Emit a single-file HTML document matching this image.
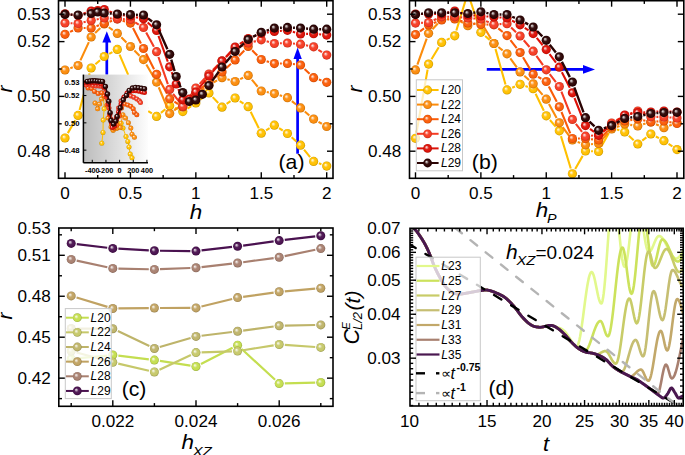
<!DOCTYPE html><html><head><meta charset="utf-8"><style>html,body{margin:0;padding:0;background:#fff;overflow:hidden;}svg{display:block;font-family:"Liberation Sans",sans-serif;}</style></head><body><svg width="685" height="455" viewBox="0 0 685 455" font-family="Liberation Sans, sans-serif"><defs><radialGradient id="g0" cx="0.5" cy="0.5" r="0.5" fx="0.35" fy="0.34"><stop offset="0" stop-color="#fffaeb"/><stop offset="0.18" stop-color="#ffe79e"/><stop offset="0.45" stop-color="#ffc40f"/><stop offset="0.8" stop-color="#ffc000"/><stop offset="1" stop-color="#c79600"/></radialGradient><radialGradient id="g1" cx="0.5" cy="0.5" r="0.5" fx="0.35" fy="0.34"><stop offset="0" stop-color="#fff6ec"/><stop offset="0.18" stop-color="#fdd3a3"/><stop offset="0.45" stop-color="#fb931b"/><stop offset="0.8" stop-color="#fb8c0c"/><stop offset="1" stop-color="#c46d09"/></radialGradient><radialGradient id="g2" cx="0.5" cy="0.5" r="0.5" fx="0.35" fy="0.34"><stop offset="0" stop-color="#fff2eb"/><stop offset="0.18" stop-color="#fdc1a1"/><stop offset="0.45" stop-color="#fa6617"/><stop offset="0.8" stop-color="#fa5c08"/><stop offset="1" stop-color="#c34806"/></radialGradient><radialGradient id="g3" cx="0.5" cy="0.5" r="0.5" fx="0.35" fy="0.34"><stop offset="0" stop-color="#feefed"/><stop offset="0.18" stop-color="#fbb5ac"/><stop offset="0.45" stop-color="#f64831"/><stop offset="0.8" stop-color="#f53c24"/><stop offset="1" stop-color="#bf2f1c"/></radialGradient><radialGradient id="g4" cx="0.5" cy="0.5" r="0.5" fx="0.35" fy="0.34"><stop offset="0" stop-color="#fceceb"/><stop offset="0.18" stop-color="#f2a5a1"/><stop offset="0.45" stop-color="#de2017"/><stop offset="0.8" stop-color="#dc1208"/><stop offset="1" stop-color="#ac0e06"/></radialGradient><radialGradient id="g5" cx="0.5" cy="0.5" r="0.5" fx="0.35" fy="0.34"><stop offset="0" stop-color="#eeebeb"/><stop offset="0.18" stop-color="#aea0a0"/><stop offset="0.45" stop-color="#381313"/><stop offset="0.8" stop-color="#2b0404"/><stop offset="1" stop-color="#220303"/></radialGradient><linearGradient id="insg" x1="0" y1="0" x2="1" y2="0"><stop offset="0" stop-color="#bcbcbc"/><stop offset="0.5" stop-color="#dcdcdc"/><stop offset="1" stop-color="#fdfdfd"/></linearGradient><radialGradient id="g6" cx="0.5" cy="0.5" r="0.5" fx="0.35" fy="0.34"><stop offset="0" stop-color="#fafcf1"/><stop offset="0.18" stop-color="#e9f2bc"/><stop offset="0.45" stop-color="#c8e05a"/><stop offset="0.8" stop-color="#c4de50"/><stop offset="1" stop-color="#99ad3e"/></radialGradient><radialGradient id="g7" cx="0.5" cy="0.5" r="0.5" fx="0.35" fy="0.34"><stop offset="0" stop-color="#fafbf3"/><stop offset="0.18" stop-color="#e9eac6"/><stop offset="0.45" stop-color="#c9cb73"/><stop offset="0.8" stop-color="#c6c86a"/><stop offset="1" stop-color="#9a9c53"/></radialGradient><radialGradient id="g8" cx="0.5" cy="0.5" r="0.5" fx="0.35" fy="0.34"><stop offset="0" stop-color="#faf9f3"/><stop offset="0.18" stop-color="#e6e2c6"/><stop offset="0.45" stop-color="#c2b873"/><stop offset="0.8" stop-color="#beb46a"/><stop offset="1" stop-color="#948c53"/></radialGradient><radialGradient id="g9" cx="0.5" cy="0.5" r="0.5" fx="0.35" fy="0.34"><stop offset="0" stop-color="#faf8f2"/><stop offset="0.18" stop-color="#e7dcc3"/><stop offset="0.45" stop-color="#c4a86b"/><stop offset="0.8" stop-color="#c0a262"/><stop offset="1" stop-color="#967e4c"/></radialGradient><radialGradient id="g10" cx="0.5" cy="0.5" r="0.5" fx="0.35" fy="0.34"><stop offset="0" stop-color="#f8f5f4"/><stop offset="0.18" stop-color="#decfc9"/><stop offset="0.45" stop-color="#ad8879"/><stop offset="0.8" stop-color="#a88070"/><stop offset="1" stop-color="#836457"/></radialGradient><radialGradient id="g11" cx="0.5" cy="0.5" r="0.5" fx="0.35" fy="0.34"><stop offset="0" stop-color="#f1ecf1"/><stop offset="0.18" stop-color="#baa5bc"/><stop offset="0.45" stop-color="#55205a"/><stop offset="0.8" stop-color="#4a1250"/><stop offset="1" stop-color="#3a0e3e"/></radialGradient></defs><rect width="685" height="455" fill="#ffffff"/><line x1="106.8" y1="74.6" x2="106.8" y2="41" stroke="#0000ff" stroke-width="2.7"/><polygon points="106.8,31.2 102.4,42.4 111.2,42.4" fill="#0000ff"/><line x1="297.6" y1="153.7" x2="297.6" y2="58" stroke="#0000ff" stroke-width="2.7"/><polygon points="297.6,47.6 293.5,59.1 301.8,59.1" fill="#0000ff"/><clipPath id="clipA"><rect x="58.5" y="0.7" width="274.5" height="177.60000000000002"/></clipPath><g clip-path="url(#clipA)"><path d="M67.81,133.15L75.28,120.25M79.58,110.00L89.68,73.40M95.38,64.30L100.05,60.20M109.18,53.83L112.42,52.07M119.54,54.55L128.22,74.85M132.80,85.07L141.14,102.93M148.22,111.03L151.88,113.37M160.93,112.86L165.34,109.24M174.79,108.00L177.66,109.30M187.44,108.52L191.17,106.08M200.30,99.60L204.49,96.40M212.73,97.12L218.23,103.08M226.60,103.98L230.52,101.22M239.77,101.10L243.53,103.60M250.67,111.72L258.80,128.18M266.05,130.28L269.58,128.12M279.09,128.20L282.72,130.50M291.62,137.23L296.36,141.47M304.05,149.56L310.10,157.04M318.89,163.29L321.43,164.21" fill="none" stroke="#ffc000" stroke-width="2.1" stroke-linecap="butt"/></g><circle cx="65.00" cy="138.00" r="4.6" fill="url(#g0)"/><circle cx="78.09" cy="115.40" r="4.6" fill="url(#g0)"/><circle cx="91.17" cy="68.00" r="4.6" fill="url(#g0)"/><circle cx="104.25" cy="56.50" r="4.6" fill="url(#g0)"/><circle cx="117.34" cy="49.40" r="4.6" fill="url(#g0)"/><circle cx="130.43" cy="80.00" r="4.6" fill="url(#g0)"/><circle cx="143.51" cy="108.00" r="4.6" fill="url(#g0)"/><circle cx="156.59" cy="116.40" r="4.6" fill="url(#g0)"/><circle cx="169.68" cy="105.70" r="4.6" fill="url(#g0)"/><circle cx="182.76" cy="111.60" r="4.6" fill="url(#g0)"/><circle cx="195.85" cy="103.00" r="4.6" fill="url(#g0)"/><circle cx="208.94" cy="93.00" r="4.6" fill="url(#g0)"/><circle cx="222.02" cy="107.20" r="4.6" fill="url(#g0)"/><circle cx="235.10" cy="98.00" r="4.6" fill="url(#g0)"/><circle cx="248.19" cy="106.70" r="4.6" fill="url(#g0)"/><circle cx="261.27" cy="133.20" r="4.6" fill="url(#g0)"/><circle cx="274.36" cy="125.20" r="4.6" fill="url(#g0)"/><circle cx="287.44" cy="133.50" r="4.6" fill="url(#g0)"/><circle cx="300.53" cy="145.20" r="4.6" fill="url(#g0)"/><circle cx="313.62" cy="161.40" r="4.6" fill="url(#g0)"/><circle cx="326.70" cy="166.10" r="4.6" fill="url(#g0)"/><g clip-path="url(#clipA)"><path d="M70.30,68.18L72.79,67.32M80.42,60.41L88.83,42.09M95.14,33.05L100.28,27.95M108.80,27.27L112.79,30.13M121.30,37.36L126.47,42.54M134.38,50.46L139.55,55.64M146.33,64.44L153.78,77.26M158.74,87.27L167.53,108.43M174.20,110.29L178.25,107.31M187.38,100.83L191.24,98.17M200.30,91.60L204.49,88.40M213.83,82.27L217.13,80.43M227.40,79.26L229.73,79.94M240.18,79.13L243.11,77.77M251.79,79.69L257.68,86.71M266.77,92.09L268.87,92.51M279.70,95.27L282.10,96.03M291.86,101.14L296.11,104.46M304.78,111.54L309.36,115.46M318.49,121.86L321.83,123.74" fill="none" stroke="#fb8c0c" stroke-width="2.1" stroke-linecap="butt"/></g><circle cx="65.00" cy="70.00" r="4.6" fill="url(#g1)"/><circle cx="78.09" cy="65.50" r="4.6" fill="url(#g1)"/><circle cx="91.17" cy="37.00" r="4.6" fill="url(#g1)"/><circle cx="104.25" cy="24.00" r="4.6" fill="url(#g1)"/><circle cx="117.34" cy="33.40" r="4.6" fill="url(#g1)"/><circle cx="130.43" cy="46.50" r="4.6" fill="url(#g1)"/><circle cx="143.51" cy="59.60" r="4.6" fill="url(#g1)"/><circle cx="156.59" cy="82.10" r="4.6" fill="url(#g1)"/><circle cx="169.68" cy="113.60" r="4.6" fill="url(#g1)"/><circle cx="182.76" cy="104.00" r="4.6" fill="url(#g1)"/><circle cx="195.85" cy="95.00" r="4.6" fill="url(#g1)"/><circle cx="208.94" cy="85.00" r="4.6" fill="url(#g1)"/><circle cx="222.02" cy="77.70" r="4.6" fill="url(#g1)"/><circle cx="235.10" cy="81.50" r="4.6" fill="url(#g1)"/><circle cx="248.19" cy="75.40" r="4.6" fill="url(#g1)"/><circle cx="261.27" cy="91.00" r="4.6" fill="url(#g1)"/><circle cx="274.36" cy="93.60" r="4.6" fill="url(#g1)"/><circle cx="287.44" cy="97.70" r="4.6" fill="url(#g1)"/><circle cx="300.53" cy="107.90" r="4.6" fill="url(#g1)"/><circle cx="313.62" cy="119.10" r="4.6" fill="url(#g1)"/><circle cx="326.70" cy="126.50" r="4.6" fill="url(#g1)"/><g clip-path="url(#clipA)"><path d="M70.05,31.87L73.04,30.43M83.69,28.00L85.57,28.00M96.47,26.18L98.96,25.32M109.55,21.68L112.04,20.82M122.68,20.67L125.08,21.43M132.99,28.08L140.95,43.52M146.04,53.49L154.06,69.31M159.24,79.24L167.03,93.76M174.41,101.70L178.04,104.00M186.59,102.91L192.03,97.09M200.14,89.40L204.65,85.60M213.38,78.60L217.57,75.40M226.15,68.22L230.98,63.78M238.99,55.96L244.31,50.44M252.15,50.36L257.32,55.54M266.62,61.17L269.02,61.93M279.96,63.51L281.85,63.49M293.00,64.08L294.97,64.32M304.55,68.90L309.60,73.80M318.90,79.56L321.42,80.44" fill="none" stroke="#fa5c08" stroke-width="2.1" stroke-linecap="butt"/></g><circle cx="65.00" cy="34.30" r="4.6" fill="url(#g2)"/><circle cx="78.09" cy="28.00" r="4.6" fill="url(#g2)"/><circle cx="91.17" cy="28.00" r="4.6" fill="url(#g2)"/><circle cx="104.25" cy="23.50" r="4.6" fill="url(#g2)"/><circle cx="117.34" cy="19.00" r="4.6" fill="url(#g2)"/><circle cx="130.43" cy="23.10" r="4.6" fill="url(#g2)"/><circle cx="143.51" cy="48.50" r="4.6" fill="url(#g2)"/><circle cx="156.59" cy="74.30" r="4.6" fill="url(#g2)"/><circle cx="169.68" cy="98.70" r="4.6" fill="url(#g2)"/><circle cx="182.76" cy="107.00" r="4.6" fill="url(#g2)"/><circle cx="195.85" cy="93.00" r="4.6" fill="url(#g2)"/><circle cx="208.94" cy="82.00" r="4.6" fill="url(#g2)"/><circle cx="222.02" cy="72.00" r="4.6" fill="url(#g2)"/><circle cx="235.10" cy="60.00" r="4.6" fill="url(#g2)"/><circle cx="248.19" cy="46.40" r="4.6" fill="url(#g2)"/><circle cx="261.27" cy="59.50" r="4.6" fill="url(#g2)"/><circle cx="274.36" cy="63.60" r="4.6" fill="url(#g2)"/><circle cx="287.44" cy="63.40" r="4.6" fill="url(#g2)"/><circle cx="300.53" cy="65.00" r="4.6" fill="url(#g2)"/><circle cx="313.62" cy="77.70" r="4.6" fill="url(#g2)"/><circle cx="326.70" cy="82.30" r="4.6" fill="url(#g2)"/><g clip-path="url(#clipA)"><path d="M70.60,23.21L72.49,23.29M83.54,22.25L85.71,21.75M96.67,19.45L98.75,19.05M109.84,18.34L111.75,18.46M122.93,19.10L124.83,19.20M135.20,22.42L138.73,24.58M146.17,32.43L153.93,46.77M158.43,56.99L167.84,84.11M173.11,93.83L179.34,101.87M186.02,101.74L192.59,92.56M199.67,83.91L205.11,78.09M212.88,70.02L218.08,64.78M226.18,57.05L230.95,52.75M240.20,46.67L243.10,45.33M253.63,41.67L255.84,41.13M266.66,41.32L268.97,41.98M279.96,43.29L281.85,43.21M293.02,43.51L294.95,43.69M306.02,45.29L308.12,45.71M318.34,49.80L321.97,52.10" fill="none" stroke="#f53c24" stroke-width="2.1" stroke-linecap="butt"/></g><circle cx="65.00" cy="23.00" r="4.6" fill="url(#g3)"/><circle cx="78.09" cy="23.50" r="4.6" fill="url(#g3)"/><circle cx="91.17" cy="20.50" r="4.6" fill="url(#g3)"/><circle cx="104.25" cy="18.00" r="4.6" fill="url(#g3)"/><circle cx="117.34" cy="18.80" r="4.6" fill="url(#g3)"/><circle cx="130.43" cy="19.50" r="4.6" fill="url(#g3)"/><circle cx="143.51" cy="27.50" r="4.6" fill="url(#g3)"/><circle cx="156.59" cy="51.70" r="4.6" fill="url(#g3)"/><circle cx="169.68" cy="89.40" r="4.6" fill="url(#g3)"/><circle cx="182.76" cy="106.30" r="4.6" fill="url(#g3)"/><circle cx="195.85" cy="88.00" r="4.6" fill="url(#g3)"/><circle cx="208.94" cy="74.00" r="4.6" fill="url(#g3)"/><circle cx="222.02" cy="60.80" r="4.6" fill="url(#g3)"/><circle cx="235.10" cy="49.00" r="4.6" fill="url(#g3)"/><circle cx="248.19" cy="43.00" r="4.6" fill="url(#g3)"/><circle cx="261.27" cy="39.80" r="4.6" fill="url(#g3)"/><circle cx="274.36" cy="43.50" r="4.6" fill="url(#g3)"/><circle cx="287.44" cy="43.00" r="4.6" fill="url(#g3)"/><circle cx="300.53" cy="44.20" r="4.6" fill="url(#g3)"/><circle cx="313.62" cy="46.80" r="4.6" fill="url(#g3)"/><circle cx="326.70" cy="55.10" r="4.6" fill="url(#g3)"/><g clip-path="url(#clipA)"><path d="M70.55,14.52L72.53,14.78M83.38,13.68L85.87,12.82M109.49,11.50L112.11,12.50M122.90,15.14L124.86,15.36M135.90,17.17L138.03,17.63M147.68,22.53L152.42,26.77M158.49,35.77L167.78,61.53M171.67,72.03L174.23,78.77M178.36,89.17L180.62,94.63M199.40,87.67L205.39,80.33M212.62,71.78L218.34,65.22M225.84,56.91L231.28,51.09M239.80,43.95L243.49,41.55M253.42,36.50L256.04,35.50M266.80,32.61L268.83,32.29M279.94,30.93L281.86,30.77M292.83,31.82L295.14,32.48M306.13,33.87L308.02,33.83M319.18,34.30L321.13,34.50" fill="none" stroke="#dc1208" stroke-width="2.1" stroke-linecap="butt"/></g><circle cx="65.00" cy="13.80" r="4.6" fill="url(#g4)"/><circle cx="78.09" cy="15.50" r="4.6" fill="url(#g4)"/><circle cx="91.17" cy="11.00" r="4.6" fill="url(#g4)"/><circle cx="97.71" cy="10.50" r="4.6" fill="url(#g4)"/><circle cx="104.25" cy="9.50" r="4.6" fill="url(#g4)"/><circle cx="117.34" cy="14.50" r="4.6" fill="url(#g4)"/><circle cx="130.43" cy="16.00" r="4.6" fill="url(#g4)"/><circle cx="143.51" cy="18.80" r="4.6" fill="url(#g4)"/><circle cx="156.59" cy="30.50" r="4.6" fill="url(#g4)"/><circle cx="169.68" cy="66.80" r="4.6" fill="url(#g4)"/><circle cx="176.22" cy="84.00" r="4.6" fill="url(#g4)"/><circle cx="182.76" cy="99.80" r="4.6" fill="url(#g4)"/><circle cx="189.31" cy="99.00" r="4.6" fill="url(#g4)"/><circle cx="195.85" cy="92.00" r="4.6" fill="url(#g4)"/><circle cx="208.94" cy="76.00" r="4.6" fill="url(#g4)"/><circle cx="222.02" cy="61.00" r="4.6" fill="url(#g4)"/><circle cx="235.10" cy="47.00" r="4.6" fill="url(#g4)"/><circle cx="248.19" cy="38.50" r="4.6" fill="url(#g4)"/><circle cx="261.27" cy="33.50" r="4.6" fill="url(#g4)"/><circle cx="274.36" cy="31.40" r="4.6" fill="url(#g4)"/><circle cx="287.44" cy="30.30" r="4.6" fill="url(#g4)"/><circle cx="300.53" cy="34.00" r="4.6" fill="url(#g4)"/><circle cx="313.62" cy="33.70" r="4.6" fill="url(#g4)"/><circle cx="326.70" cy="35.10" r="4.6" fill="url(#g4)"/><g clip-path="url(#clipA)"><path d="M70.59,14.66L72.49,14.74M83.65,14.36L85.61,14.14M109.84,13.43L111.76,13.57M122.93,14.26L124.83,14.34M136.02,14.77L137.91,14.83M147.99,18.36L152.11,21.44M158.87,29.92L167.41,49.18M171.26,59.67L174.64,71.13M178.33,81.69L180.66,87.41M212.17,80.93L218.79,71.57M225.63,62.72L231.49,55.78M239.23,47.72L244.06,43.28M253.10,36.80L256.37,35.00M266.61,30.59L269.03,29.81M279.95,27.80L281.85,27.70M293.04,27.70L294.94,27.80M306.11,28.57L308.03,28.73M319.22,29.20L321.10,29.20" fill="none" stroke="#2b0404" stroke-width="2.4" stroke-linecap="butt"/></g><circle cx="65.00" cy="14.40" r="4.6" fill="url(#g5)"/><circle cx="78.09" cy="15.00" r="4.6" fill="url(#g5)"/><circle cx="91.17" cy="13.50" r="4.6" fill="url(#g5)"/><circle cx="97.71" cy="12.00" r="4.6" fill="url(#g5)"/><circle cx="104.25" cy="13.00" r="4.6" fill="url(#g5)"/><circle cx="117.34" cy="14.00" r="4.6" fill="url(#g5)"/><circle cx="130.43" cy="14.60" r="4.6" fill="url(#g5)"/><circle cx="143.51" cy="15.00" r="4.6" fill="url(#g5)"/><circle cx="156.59" cy="24.80" r="4.6" fill="url(#g5)"/><circle cx="169.68" cy="54.30" r="4.6" fill="url(#g5)"/><circle cx="176.22" cy="76.50" r="4.6" fill="url(#g5)"/><circle cx="182.76" cy="92.60" r="4.6" fill="url(#g5)"/><circle cx="189.31" cy="101.50" r="4.6" fill="url(#g5)"/><circle cx="195.85" cy="100.00" r="4.6" fill="url(#g5)"/><circle cx="202.39" cy="94.30" r="4.6" fill="url(#g5)"/><circle cx="208.94" cy="85.50" r="4.6" fill="url(#g5)"/><circle cx="222.02" cy="67.00" r="4.6" fill="url(#g5)"/><circle cx="235.10" cy="51.50" r="4.6" fill="url(#g5)"/><circle cx="248.19" cy="39.50" r="4.6" fill="url(#g5)"/><circle cx="261.27" cy="32.30" r="4.6" fill="url(#g5)"/><circle cx="274.36" cy="28.10" r="4.6" fill="url(#g5)"/><circle cx="287.44" cy="27.40" r="4.6" fill="url(#g5)"/><circle cx="300.53" cy="28.10" r="4.6" fill="url(#g5)"/><circle cx="313.62" cy="29.20" r="4.6" fill="url(#g5)"/><circle cx="326.70" cy="29.20" r="4.6" fill="url(#g5)"/><rect x="83.4" y="74.6" width="64.6" height="88.20000000000002" fill="url(#insg)"/><polyline points="103.50,97.00 104.20,108.80 103.20,120.00 103.00,132.40 101.80,143.30" fill="none" stroke="#ffc000" stroke-width="1.0" stroke-linejoin="round" stroke-linecap="round" /><circle cx="103.50" cy="97.00" r="2.5" fill="url(#g0)"/><circle cx="104.20" cy="108.80" r="2.5" fill="url(#g0)"/><circle cx="103.20" cy="120.00" r="2.5" fill="url(#g0)"/><circle cx="103.00" cy="132.40" r="2.5" fill="url(#g0)"/><circle cx="101.80" cy="143.30" r="2.5" fill="url(#g0)"/><polyline points="113.00,130.00 116.50,128.00 119.00,124.00 121.10,123.30 123.00,128.00 126.00,136.60 127.80,141.40 129.00,146.90 130.20,154.10 132.00,157.80" fill="none" stroke="#ffc000" stroke-width="1.0" stroke-linejoin="round" stroke-linecap="round" /><circle cx="113.00" cy="130.00" r="2.5" fill="url(#g0)"/><circle cx="116.50" cy="128.00" r="2.5" fill="url(#g0)"/><circle cx="119.00" cy="124.00" r="2.5" fill="url(#g0)"/><circle cx="121.10" cy="123.30" r="2.5" fill="url(#g0)"/><circle cx="123.00" cy="128.00" r="2.5" fill="url(#g0)"/><circle cx="126.00" cy="136.60" r="2.5" fill="url(#g0)"/><circle cx="127.80" cy="141.40" r="2.5" fill="url(#g0)"/><circle cx="129.00" cy="146.90" r="2.5" fill="url(#g0)"/><circle cx="130.20" cy="154.10" r="2.5" fill="url(#g0)"/><circle cx="132.00" cy="157.80" r="2.5" fill="url(#g0)"/><polyline points="95.00,103.00 97.60,108.80 99.50,104.00 101.50,99.00" fill="none" stroke="#fb8c0c" stroke-width="1.0" stroke-linejoin="round" stroke-linecap="round" /><circle cx="95.00" cy="103.00" r="2.5" fill="url(#g1)"/><circle cx="97.60" cy="108.80" r="2.5" fill="url(#g1)"/><circle cx="99.50" cy="104.00" r="2.5" fill="url(#g1)"/><circle cx="101.50" cy="99.00" r="2.5" fill="url(#g1)"/><polyline points="108.00,118.00 111.00,127.00 113.20,130.20 116.50,128.50 120.20,127.50 122.90,114.80 125.50,118.00 128.40,122.70 130.80,128.10 132.00,134.20 134.40,137.20" fill="none" stroke="#fb8c0c" stroke-width="1.0" stroke-linejoin="round" stroke-linecap="round" /><circle cx="108.00" cy="118.00" r="2.5" fill="url(#g1)"/><circle cx="111.00" cy="127.00" r="2.5" fill="url(#g1)"/><circle cx="113.20" cy="130.20" r="2.5" fill="url(#g1)"/><circle cx="116.50" cy="128.50" r="2.5" fill="url(#g1)"/><circle cx="120.20" cy="127.50" r="2.5" fill="url(#g1)"/><circle cx="122.90" cy="114.80" r="2.5" fill="url(#g1)"/><circle cx="125.50" cy="118.00" r="2.5" fill="url(#g1)"/><circle cx="128.40" cy="122.70" r="2.5" fill="url(#g1)"/><circle cx="130.80" cy="128.10" r="2.5" fill="url(#g1)"/><circle cx="132.00" cy="134.20" r="2.5" fill="url(#g1)"/><circle cx="134.40" cy="137.20" r="2.5" fill="url(#g1)"/><polyline points="88.00,88.00 91.60,88.50 94.50,91.40 98.10,93.60 101.80,92.80 104.50,96.00 107.00,105.00 109.50,115.00 111.50,124.00 114.00,128.00 117.00,125.00 119.50,116.00 121.50,108.00 124.70,103.90 127.80,105.00 130.80,106.30 133.20,108.70 134.40,112.40 136.80,114.80" fill="none" stroke="#fa5c08" stroke-width="1.0" stroke-linejoin="round" stroke-linecap="round" /><circle cx="88.00" cy="88.00" r="2.5" fill="url(#g2)"/><circle cx="91.60" cy="88.50" r="2.5" fill="url(#g2)"/><circle cx="94.50" cy="91.40" r="2.5" fill="url(#g2)"/><circle cx="98.10" cy="93.60" r="2.5" fill="url(#g2)"/><circle cx="101.80" cy="92.80" r="2.5" fill="url(#g2)"/><circle cx="104.50" cy="96.00" r="2.5" fill="url(#g2)"/><circle cx="107.00" cy="105.00" r="2.5" fill="url(#g2)"/><circle cx="109.50" cy="115.00" r="2.5" fill="url(#g2)"/><circle cx="111.50" cy="124.00" r="2.5" fill="url(#g2)"/><circle cx="114.00" cy="128.00" r="2.5" fill="url(#g2)"/><circle cx="117.00" cy="125.00" r="2.5" fill="url(#g2)"/><circle cx="119.50" cy="116.00" r="2.5" fill="url(#g2)"/><circle cx="121.50" cy="108.00" r="2.5" fill="url(#g2)"/><circle cx="124.70" cy="103.90" r="2.5" fill="url(#g2)"/><circle cx="127.80" cy="105.00" r="2.5" fill="url(#g2)"/><circle cx="130.80" cy="106.30" r="2.5" fill="url(#g2)"/><circle cx="133.20" cy="108.70" r="2.5" fill="url(#g2)"/><circle cx="134.40" cy="112.40" r="2.5" fill="url(#g2)"/><circle cx="136.80" cy="114.80" r="2.5" fill="url(#g2)"/><polyline points="86.00,85.00 89.70,85.10 93.00,85.50 96.00,86.00 99.00,86.00 101.20,86.30 104.00,88.00 106.50,97.00 109.00,108.00 111.00,119.00 112.50,126.00 114.50,125.00 116.50,117.00 118.50,108.00 121.00,101.00 124.00,97.50 127.20,94.80 130.80,96.00 133.80,97.20 136.80,99.00 139.30,100.80 140.50,102.60" fill="none" stroke="#f53c24" stroke-width="1.0" stroke-linejoin="round" stroke-linecap="round" /><circle cx="86.00" cy="85.00" r="2.5" fill="url(#g3)"/><circle cx="89.70" cy="85.10" r="2.5" fill="url(#g3)"/><circle cx="93.00" cy="85.50" r="2.5" fill="url(#g3)"/><circle cx="96.00" cy="86.00" r="2.5" fill="url(#g3)"/><circle cx="99.00" cy="86.00" r="2.5" fill="url(#g3)"/><circle cx="101.20" cy="86.30" r="2.5" fill="url(#g3)"/><circle cx="104.00" cy="88.00" r="2.5" fill="url(#g3)"/><circle cx="106.50" cy="97.00" r="2.5" fill="url(#g3)"/><circle cx="109.00" cy="108.00" r="2.5" fill="url(#g3)"/><circle cx="111.00" cy="119.00" r="2.5" fill="url(#g3)"/><circle cx="112.50" cy="126.00" r="2.5" fill="url(#g3)"/><circle cx="114.50" cy="125.00" r="2.5" fill="url(#g3)"/><circle cx="116.50" cy="117.00" r="2.5" fill="url(#g3)"/><circle cx="118.50" cy="108.00" r="2.5" fill="url(#g3)"/><circle cx="121.00" cy="101.00" r="2.5" fill="url(#g3)"/><circle cx="124.00" cy="97.50" r="2.5" fill="url(#g3)"/><circle cx="127.20" cy="94.80" r="2.5" fill="url(#g3)"/><circle cx="130.80" cy="96.00" r="2.5" fill="url(#g3)"/><circle cx="133.80" cy="97.20" r="2.5" fill="url(#g3)"/><circle cx="136.80" cy="99.00" r="2.5" fill="url(#g3)"/><circle cx="139.30" cy="100.80" r="2.5" fill="url(#g3)"/><circle cx="140.50" cy="102.60" r="2.5" fill="url(#g3)"/><polyline points="86.00,82.50 89.00,83.00 92.00,82.50 95.00,83.00 98.00,83.00 101.00,84.00 104.00,87.00 106.50,95.00 108.50,104.00 110.00,114.00 111.20,122.00 112.30,127.50 114.50,126.00 116.50,119.00 118.50,112.00 121.00,104.00 124.00,97.00 127.00,93.00 130.00,91.50 133.00,90.80 136.00,90.80 139.00,91.20 142.00,92.00 144.50,92.50" fill="none" stroke="#dc1208" stroke-width="1.0" stroke-linejoin="round" stroke-linecap="round" /><circle cx="86.00" cy="82.50" r="2.5" fill="url(#g4)"/><circle cx="89.00" cy="83.00" r="2.5" fill="url(#g4)"/><circle cx="92.00" cy="82.50" r="2.5" fill="url(#g4)"/><circle cx="95.00" cy="83.00" r="2.5" fill="url(#g4)"/><circle cx="98.00" cy="83.00" r="2.5" fill="url(#g4)"/><circle cx="101.00" cy="84.00" r="2.5" fill="url(#g4)"/><circle cx="104.00" cy="87.00" r="2.5" fill="url(#g4)"/><circle cx="106.50" cy="95.00" r="2.5" fill="url(#g4)"/><circle cx="108.50" cy="104.00" r="2.5" fill="url(#g4)"/><circle cx="110.00" cy="114.00" r="2.5" fill="url(#g4)"/><circle cx="111.20" cy="122.00" r="2.5" fill="url(#g4)"/><circle cx="112.30" cy="127.50" r="2.5" fill="url(#g4)"/><circle cx="114.50" cy="126.00" r="2.5" fill="url(#g4)"/><circle cx="116.50" cy="119.00" r="2.5" fill="url(#g4)"/><circle cx="118.50" cy="112.00" r="2.5" fill="url(#g4)"/><circle cx="121.00" cy="104.00" r="2.5" fill="url(#g4)"/><circle cx="124.00" cy="97.00" r="2.5" fill="url(#g4)"/><circle cx="127.00" cy="93.00" r="2.5" fill="url(#g4)"/><circle cx="130.00" cy="91.50" r="2.5" fill="url(#g4)"/><circle cx="133.00" cy="90.80" r="2.5" fill="url(#g4)"/><circle cx="136.00" cy="90.80" r="2.5" fill="url(#g4)"/><circle cx="139.00" cy="91.20" r="2.5" fill="url(#g4)"/><circle cx="142.00" cy="92.00" r="2.5" fill="url(#g4)"/><circle cx="144.50" cy="92.50" r="2.5" fill="url(#g4)"/><polyline points="87.30,81.50 90.00,81.00 92.50,80.80 95.00,80.80 97.50,81.00 100.00,81.20 102.50,81.50 105.40,86.50 107.50,94.00 108.80,101.20 110.10,112.60 111.00,120.50 113.60,124.00 115.80,121.00 117.20,116.50 120.20,107.80 123.30,99.80 126.40,95.40 129.20,90.50 132.50,88.00 135.50,87.50 138.50,87.80 141.50,88.30 144.50,88.70" fill="none" stroke="#2b0404" stroke-width="1.6" stroke-linejoin="round" stroke-linecap="round" /><circle cx="87.30" cy="81.50" r="2.7" fill="url(#g5)"/><circle cx="90.00" cy="81.00" r="2.7" fill="url(#g5)"/><circle cx="92.50" cy="80.80" r="2.7" fill="url(#g5)"/><circle cx="95.00" cy="80.80" r="2.7" fill="url(#g5)"/><circle cx="97.50" cy="81.00" r="2.7" fill="url(#g5)"/><circle cx="100.00" cy="81.20" r="2.7" fill="url(#g5)"/><circle cx="102.50" cy="81.50" r="2.7" fill="url(#g5)"/><circle cx="105.40" cy="86.50" r="2.7" fill="url(#g5)"/><circle cx="107.50" cy="94.00" r="2.7" fill="url(#g5)"/><circle cx="108.80" cy="101.20" r="2.7" fill="url(#g5)"/><circle cx="110.10" cy="112.60" r="2.7" fill="url(#g5)"/><circle cx="111.00" cy="120.50" r="2.7" fill="url(#g5)"/><circle cx="113.60" cy="124.00" r="2.7" fill="url(#g5)"/><circle cx="115.80" cy="121.00" r="2.7" fill="url(#g5)"/><circle cx="117.20" cy="116.50" r="2.7" fill="url(#g5)"/><circle cx="120.20" cy="107.80" r="2.7" fill="url(#g5)"/><circle cx="123.30" cy="99.80" r="2.7" fill="url(#g5)"/><circle cx="126.40" cy="95.40" r="2.7" fill="url(#g5)"/><circle cx="129.20" cy="90.50" r="2.7" fill="url(#g5)"/><circle cx="132.50" cy="88.00" r="2.7" fill="url(#g5)"/><circle cx="135.50" cy="87.50" r="2.7" fill="url(#g5)"/><circle cx="138.50" cy="87.80" r="2.7" fill="url(#g5)"/><circle cx="141.50" cy="88.30" r="2.7" fill="url(#g5)"/><circle cx="144.50" cy="88.70" r="2.7" fill="url(#g5)"/><line x1="83.4" y1="74.6" x2="83.4" y2="162.8" stroke="#000" stroke-width="1.5"/><line x1="83.4" y1="162.8" x2="148.0" y2="162.8" stroke="#000" stroke-width="1.5"/><line x1="92.28" y1="162.8" x2="92.28" y2="159.8" stroke="#000" stroke-width="1"/><line x1="105.94" y1="162.8" x2="105.94" y2="159.8" stroke="#000" stroke-width="1"/><line x1="119.60" y1="162.8" x2="119.60" y2="159.8" stroke="#000" stroke-width="1"/><line x1="133.26" y1="162.8" x2="133.26" y2="159.8" stroke="#000" stroke-width="1"/><line x1="146.92" y1="162.8" x2="146.92" y2="159.8" stroke="#000" stroke-width="1"/><line x1="83.4" y1="81.90" x2="86.4" y2="81.90" stroke="#000" stroke-width="1"/><text transform="translate(79.60,84.60) scale(1.02,1)" font-size="7.6" text-anchor="end" fill="#000" font-weight="bold" >0.53</text><line x1="83.4" y1="95.55" x2="86.4" y2="95.55" stroke="#000" stroke-width="1"/><text transform="translate(79.60,98.25) scale(1.02,1)" font-size="7.6" text-anchor="end" fill="#000" font-weight="bold" >0.52</text><line x1="83.4" y1="122.85" x2="86.4" y2="122.85" stroke="#000" stroke-width="1"/><text transform="translate(79.60,125.55) scale(1.02,1)" font-size="7.6" text-anchor="end" fill="#000" font-weight="bold" >0.50</text><line x1="83.4" y1="150.15" x2="86.4" y2="150.15" stroke="#000" stroke-width="1"/><text transform="translate(79.60,152.85) scale(1.02,1)" font-size="7.6" text-anchor="end" fill="#000" font-weight="bold" >0.48</text><text transform="translate(92.28,173.10) scale(0.98,1)" font-size="7.5" text-anchor="middle" fill="#000" font-weight="bold" >-400</text><text transform="translate(105.94,173.10) scale(0.98,1)" font-size="7.5" text-anchor="middle" fill="#000" font-weight="bold" >-200</text><text transform="translate(119.60,173.10) scale(0.98,1)" font-size="7.5" text-anchor="middle" fill="#000" font-weight="bold" >0</text><text transform="translate(133.26,173.10) scale(0.98,1)" font-size="7.5" text-anchor="middle" fill="#000" font-weight="bold" >200</text><text transform="translate(146.92,173.10) scale(0.98,1)" font-size="7.5" text-anchor="middle" fill="#000" font-weight="bold" >400</text><rect x="58.5" y="0.7" width="274.5" height="177.60000000000002" fill="none" stroke="#000" stroke-width="1.6"/><line x1="65.00" y1="178.3" x2="65.00" y2="172.3" stroke="#000" stroke-width="1.4"/><line x1="65.00" y1="0.7" x2="65.00" y2="6.7" stroke="#000" stroke-width="1.4"/><line x1="130.43" y1="178.3" x2="130.43" y2="172.3" stroke="#000" stroke-width="1.4"/><line x1="130.43" y1="0.7" x2="130.43" y2="6.7" stroke="#000" stroke-width="1.4"/><line x1="195.85" y1="178.3" x2="195.85" y2="172.3" stroke="#000" stroke-width="1.4"/><line x1="195.85" y1="0.7" x2="195.85" y2="6.7" stroke="#000" stroke-width="1.4"/><line x1="261.27" y1="178.3" x2="261.27" y2="172.3" stroke="#000" stroke-width="1.4"/><line x1="261.27" y1="0.7" x2="261.27" y2="6.7" stroke="#000" stroke-width="1.4"/><line x1="326.70" y1="178.3" x2="326.70" y2="172.3" stroke="#000" stroke-width="1.4"/><line x1="326.70" y1="0.7" x2="326.70" y2="6.7" stroke="#000" stroke-width="1.4"/><line x1="97.71" y1="178.3" x2="97.71" y2="175.10000000000002" stroke="#000" stroke-width="1.4"/><line x1="97.71" y1="0.7" x2="97.71" y2="3.9000000000000004" stroke="#000" stroke-width="1.4"/><line x1="163.14" y1="178.3" x2="163.14" y2="175.10000000000002" stroke="#000" stroke-width="1.4"/><line x1="163.14" y1="0.7" x2="163.14" y2="3.9000000000000004" stroke="#000" stroke-width="1.4"/><line x1="228.56" y1="178.3" x2="228.56" y2="175.10000000000002" stroke="#000" stroke-width="1.4"/><line x1="228.56" y1="0.7" x2="228.56" y2="3.9000000000000004" stroke="#000" stroke-width="1.4"/><line x1="293.99" y1="178.3" x2="293.99" y2="175.10000000000002" stroke="#000" stroke-width="1.4"/><line x1="293.99" y1="0.7" x2="293.99" y2="3.9000000000000004" stroke="#000" stroke-width="1.4"/><line x1="58.5" y1="14.20" x2="64.5" y2="14.20" stroke="#000" stroke-width="1.4"/><line x1="333.0" y1="14.20" x2="327.0" y2="14.20" stroke="#000" stroke-width="1.4"/><line x1="58.5" y1="41.60" x2="64.5" y2="41.60" stroke="#000" stroke-width="1.4"/><line x1="333.0" y1="41.60" x2="327.0" y2="41.60" stroke="#000" stroke-width="1.4"/><line x1="58.5" y1="96.40" x2="64.5" y2="96.40" stroke="#000" stroke-width="1.4"/><line x1="333.0" y1="96.40" x2="327.0" y2="96.40" stroke="#000" stroke-width="1.4"/><line x1="58.5" y1="151.20" x2="64.5" y2="151.20" stroke="#000" stroke-width="1.4"/><line x1="333.0" y1="151.20" x2="327.0" y2="151.20" stroke="#000" stroke-width="1.4"/><line x1="58.5" y1="69.00" x2="61.7" y2="69.00" stroke="#000" stroke-width="1.4"/><line x1="333.0" y1="69.00" x2="329.8" y2="69.00" stroke="#000" stroke-width="1.4"/><line x1="58.5" y1="123.80" x2="61.7" y2="123.80" stroke="#000" stroke-width="1.4"/><line x1="333.0" y1="123.80" x2="329.8" y2="123.80" stroke="#000" stroke-width="1.4"/><text transform="translate(50.50,19.70) scale(1.07,1)" font-size="16" text-anchor="end" fill="#000" >0.53</text><text transform="translate(50.50,47.10) scale(1.07,1)" font-size="16" text-anchor="end" fill="#000" >0.52</text><text transform="translate(50.50,101.90) scale(1.07,1)" font-size="16" text-anchor="end" fill="#000" >0.50</text><text transform="translate(50.50,156.70) scale(1.07,1)" font-size="16" text-anchor="end" fill="#000" >0.48</text><text transform="translate(65.00,198.50) scale(1.07,1)" font-size="16" text-anchor="middle" fill="#000" >0</text><text transform="translate(130.43,198.50) scale(1.07,1)" font-size="16" text-anchor="middle" fill="#000" >0.5</text><text transform="translate(195.85,198.50) scale(1.07,1)" font-size="16" text-anchor="middle" fill="#000" >1</text><text transform="translate(261.27,198.50) scale(1.07,1)" font-size="16" text-anchor="middle" fill="#000" >1.5</text><text transform="translate(326.70,198.50) scale(1.07,1)" font-size="16" text-anchor="middle" fill="#000" >2</text><text transform="translate(196.00,219.00) scale(1.12,1)" font-size="20" text-anchor="middle" fill="#000" font-style="italic" >h</text><text transform="translate(11.80,89.00) rotate(-90)" font-size="21" text-anchor="middle" fill="#000" font-style="italic" >r</text><text transform="translate(291.50,168.60) scale(1.06,1)" font-size="20" text-anchor="middle" fill="#000" >(a)</text><line x1="486.8" y1="69.4" x2="584" y2="69.4" stroke="#0000ff" stroke-width="2.7"/><polygon points="595,69.4 583,65.1 583,73.7" fill="#0000ff"/><clipPath id="clipB"><rect x="409.5" y="0.7" width="274.29999999999995" height="177.60000000000002"/></clipPath><g clip-path="url(#clipB)"><path d="M416.47,132.78L427.60,69.62M431.47,59.30L438.76,47.20M446.65,39.88L449.73,38.32M456.36,30.44L466.16,-1.64M469.57,-1.69L479.11,26.99M485.13,35.94L489.70,39.86M495.47,48.89L505.51,84.51M512.17,87.70L514.95,86.50M525.41,86.09L527.87,86.91M535.61,93.74L543.82,110.76M549.93,120.02L555.65,126.58M560.95,136.16L570.77,168.44M575.19,168.94L582.69,155.86M591.07,151.21L592.95,151.29M601.27,146.61L608.90,132.89M616.99,129.60L619.33,130.30M628.81,135.70L633.66,140.20M642.22,140.60L646.40,137.40M655.83,136.55L658.94,138.15M668.55,143.85L672.37,146.45" fill="none" stroke="#ffc000" stroke-width="2.1" stroke-linecap="butt"/></g><circle cx="415.50" cy="138.30" r="4.6" fill="url(#g0)"/><circle cx="428.57" cy="64.10" r="4.6" fill="url(#g0)"/><circle cx="441.65" cy="42.40" r="4.6" fill="url(#g0)"/><circle cx="454.73" cy="35.80" r="4.6" fill="url(#g0)"/><circle cx="480.88" cy="32.30" r="4.6" fill="url(#g0)"/><circle cx="493.95" cy="43.50" r="4.6" fill="url(#g0)"/><circle cx="507.02" cy="89.90" r="4.6" fill="url(#g0)"/><circle cx="520.10" cy="84.30" r="4.6" fill="url(#g0)"/><circle cx="533.17" cy="88.70" r="4.6" fill="url(#g0)"/><circle cx="546.25" cy="115.80" r="4.6" fill="url(#g0)"/><circle cx="559.33" cy="130.80" r="4.6" fill="url(#g0)"/><circle cx="572.40" cy="173.80" r="4.6" fill="url(#g0)"/><circle cx="585.48" cy="151.00" r="4.6" fill="url(#g0)"/><circle cx="598.55" cy="151.50" r="4.6" fill="url(#g0)"/><circle cx="611.62" cy="128.00" r="4.6" fill="url(#g0)"/><circle cx="624.70" cy="131.90" r="4.6" fill="url(#g0)"/><circle cx="637.77" cy="144.00" r="4.6" fill="url(#g0)"/><circle cx="650.85" cy="134.00" r="4.6" fill="url(#g0)"/><circle cx="663.92" cy="140.70" r="4.6" fill="url(#g0)"/><circle cx="677.00" cy="149.60" r="4.6" fill="url(#g0)"/><g clip-path="url(#clipB)"><path d="M417.38,64.63L426.69,38.57M432.43,29.23L437.80,23.57M447.21,18.86L449.16,18.64M459.55,20.84L462.97,22.86M473.18,24.14L475.50,23.46M483.77,26.69L491.05,38.71M498.35,46.97L502.63,50.33M510.30,58.34L516.82,67.36M524.24,75.67L529.03,80.03M536.80,88.07L542.63,94.93M548.96,104.10L556.61,117.90M562.71,127.26L569.01,135.54M577.66,141.93L580.22,142.87M591.05,144.25L592.98,144.05M602.30,139.34L607.87,133.16M616.86,127.00L619.47,126.00M630.24,124.85L632.24,125.15M643.12,124.32L645.51,123.58M655.97,124.17L658.81,125.43M669.16,125.70L671.77,124.70" fill="none" stroke="#fb8c0c" stroke-width="2.1" stroke-linecap="butt"/></g><circle cx="415.50" cy="69.90" r="4.6" fill="url(#g1)"/><circle cx="428.57" cy="33.30" r="4.6" fill="url(#g1)"/><circle cx="441.65" cy="19.50" r="4.6" fill="url(#g1)"/><circle cx="454.73" cy="18.00" r="4.6" fill="url(#g1)"/><circle cx="467.80" cy="25.70" r="4.6" fill="url(#g1)"/><circle cx="480.88" cy="21.90" r="4.6" fill="url(#g1)"/><circle cx="493.95" cy="43.50" r="4.6" fill="url(#g1)"/><circle cx="507.02" cy="53.80" r="4.6" fill="url(#g1)"/><circle cx="520.10" cy="71.90" r="4.6" fill="url(#g1)"/><circle cx="533.17" cy="83.80" r="4.6" fill="url(#g1)"/><circle cx="546.25" cy="99.20" r="4.6" fill="url(#g1)"/><circle cx="559.33" cy="122.80" r="4.6" fill="url(#g1)"/><circle cx="572.40" cy="140.00" r="4.6" fill="url(#g1)"/><circle cx="585.48" cy="144.80" r="4.6" fill="url(#g1)"/><circle cx="598.55" cy="143.50" r="4.6" fill="url(#g1)"/><circle cx="611.62" cy="129.00" r="4.6" fill="url(#g1)"/><circle cx="624.70" cy="124.00" r="4.6" fill="url(#g1)"/><circle cx="637.77" cy="126.00" r="4.6" fill="url(#g1)"/><circle cx="650.85" cy="121.90" r="4.6" fill="url(#g1)"/><circle cx="663.92" cy="127.70" r="4.6" fill="url(#g1)"/><circle cx="677.00" cy="122.70" r="4.6" fill="url(#g1)"/><g clip-path="url(#clipB)"><path d="M420.01,31.29L424.06,28.31M433.81,23.00L436.42,22.00M447.23,19.57L449.14,19.43M460.08,20.64L462.44,21.36M473.37,23.60L475.31,23.80M486.47,24.57L488.35,24.63M498.27,28.37L502.71,32.03M510.45,40.03L516.67,48.07M522.99,57.30L530.28,69.40M538.06,76.93L541.36,78.77M548.82,86.47L556.75,101.83M561.46,111.98L570.26,133.32M578.00,138.54L579.88,138.56M591.04,139.20L592.98,139.40M602.52,136.05L607.65,130.95M616.71,124.66L619.61,123.34M630.24,120.15L632.24,119.85M643.24,120.21L645.38,120.69M656.44,121.52L658.34,121.38M669.43,122.05L671.50,122.45" fill="none" stroke="#fa5c08" stroke-width="2.1" stroke-linecap="butt"/></g><circle cx="415.50" cy="34.60" r="4.6" fill="url(#g2)"/><circle cx="428.57" cy="25.00" r="4.6" fill="url(#g2)"/><circle cx="441.65" cy="20.00" r="4.6" fill="url(#g2)"/><circle cx="454.73" cy="19.00" r="4.6" fill="url(#g2)"/><circle cx="467.80" cy="23.00" r="4.6" fill="url(#g2)"/><circle cx="480.88" cy="24.40" r="4.6" fill="url(#g2)"/><circle cx="493.95" cy="24.80" r="4.6" fill="url(#g2)"/><circle cx="507.02" cy="35.60" r="4.6" fill="url(#g2)"/><circle cx="520.10" cy="52.50" r="4.6" fill="url(#g2)"/><circle cx="533.17" cy="74.20" r="4.6" fill="url(#g2)"/><circle cx="546.25" cy="81.50" r="4.6" fill="url(#g2)"/><circle cx="559.33" cy="106.80" r="4.6" fill="url(#g2)"/><circle cx="572.40" cy="138.50" r="4.6" fill="url(#g2)"/><circle cx="585.48" cy="138.60" r="4.6" fill="url(#g2)"/><circle cx="598.55" cy="140.00" r="4.6" fill="url(#g2)"/><circle cx="611.62" cy="127.00" r="4.6" fill="url(#g2)"/><circle cx="624.70" cy="121.00" r="4.6" fill="url(#g2)"/><circle cx="637.77" cy="119.00" r="4.6" fill="url(#g2)"/><circle cx="650.85" cy="121.90" r="4.6" fill="url(#g2)"/><circle cx="663.92" cy="121.00" r="4.6" fill="url(#g2)"/><circle cx="677.00" cy="123.50" r="4.6" fill="url(#g2)"/><g clip-path="url(#clipB)"><path d="M421.10,22.89L422.98,22.81M433.69,20.33L436.53,19.07M447.25,16.80L449.12,16.80M460.30,17.31L462.22,17.49M473.38,18.43L475.29,18.57M486.05,21.14L488.77,22.26M499.54,24.10L501.43,24.00M511.10,27.54L516.02,32.16M523.75,40.25L529.52,46.95M536.40,55.78L543.03,65.22M549.70,74.21L555.87,82.09M561.39,91.70L570.33,114.20M575.84,123.82L582.04,131.78M591.05,135.69L592.97,135.51M602.68,131.21L607.50,126.79M616.48,120.21L619.84,118.29M630.00,113.68L632.48,112.82M642.89,113.27L645.73,114.53M656.45,116.89L658.33,116.91M669.51,117.43L671.42,117.57" fill="none" stroke="#f53c24" stroke-width="2.1" stroke-linecap="butt"/></g><circle cx="415.50" cy="23.10" r="4.6" fill="url(#g3)"/><circle cx="428.57" cy="22.60" r="4.6" fill="url(#g3)"/><circle cx="441.65" cy="16.80" r="4.6" fill="url(#g3)"/><circle cx="454.73" cy="16.80" r="4.6" fill="url(#g3)"/><circle cx="467.80" cy="18.00" r="4.6" fill="url(#g3)"/><circle cx="480.88" cy="19.00" r="4.6" fill="url(#g3)"/><circle cx="493.95" cy="24.40" r="4.6" fill="url(#g3)"/><circle cx="507.02" cy="23.70" r="4.6" fill="url(#g3)"/><circle cx="520.10" cy="36.00" r="4.6" fill="url(#g3)"/><circle cx="533.17" cy="51.20" r="4.6" fill="url(#g3)"/><circle cx="546.25" cy="69.80" r="4.6" fill="url(#g3)"/><circle cx="559.33" cy="86.50" r="4.6" fill="url(#g3)"/><circle cx="572.40" cy="119.40" r="4.6" fill="url(#g3)"/><circle cx="585.48" cy="136.20" r="4.6" fill="url(#g3)"/><circle cx="598.55" cy="135.00" r="4.6" fill="url(#g3)"/><circle cx="611.62" cy="123.00" r="4.6" fill="url(#g3)"/><circle cx="624.70" cy="115.50" r="4.6" fill="url(#g3)"/><circle cx="637.77" cy="111.00" r="4.6" fill="url(#g3)"/><circle cx="650.85" cy="116.80" r="4.6" fill="url(#g3)"/><circle cx="663.92" cy="117.00" r="4.6" fill="url(#g3)"/><circle cx="677.00" cy="118.00" r="4.6" fill="url(#g3)"/><g clip-path="url(#clipB)"><path d="M421.10,14.00L422.97,14.00M434.18,14.00L436.05,14.00M447.11,12.75L449.27,12.25M460.08,12.64L462.44,13.36M473.38,15.43L475.29,15.57M486.46,16.43L488.37,16.57M499.53,17.43L501.44,17.57M511.99,20.58L515.13,22.22M524.75,27.93L528.53,30.47M536.72,37.94L542.71,45.26M549.59,54.10L555.99,62.70M561.87,72.19L569.85,87.81M574.47,98.00L583.40,120.40M589.97,128.94L594.05,131.96M602.95,131.83L607.23,128.47M616.07,121.60L620.25,118.40M630.21,113.99L632.27,113.61M643.37,112.34L645.26,112.26M656.43,111.57L658.34,111.43M669.51,111.43L671.42,111.57" fill="none" stroke="#dc1208" stroke-width="2.1" stroke-linecap="butt"/></g><circle cx="415.50" cy="14.00" r="4.6" fill="url(#g4)"/><circle cx="428.57" cy="14.00" r="4.6" fill="url(#g4)"/><circle cx="441.65" cy="14.00" r="4.6" fill="url(#g4)"/><circle cx="454.73" cy="11.00" r="4.6" fill="url(#g4)"/><circle cx="467.80" cy="15.00" r="4.6" fill="url(#g4)"/><circle cx="480.88" cy="16.00" r="4.6" fill="url(#g4)"/><circle cx="493.95" cy="17.00" r="4.6" fill="url(#g4)"/><circle cx="507.02" cy="18.00" r="4.6" fill="url(#g4)"/><circle cx="520.10" cy="24.80" r="4.6" fill="url(#g4)"/><circle cx="533.17" cy="33.60" r="4.6" fill="url(#g4)"/><circle cx="546.25" cy="49.60" r="4.6" fill="url(#g4)"/><circle cx="559.33" cy="67.20" r="4.6" fill="url(#g4)"/><circle cx="572.40" cy="92.80" r="4.6" fill="url(#g4)"/><circle cx="585.48" cy="125.60" r="4.6" fill="url(#g4)"/><circle cx="598.55" cy="135.30" r="4.6" fill="url(#g4)"/><circle cx="611.62" cy="125.00" r="4.6" fill="url(#g4)"/><circle cx="624.70" cy="115.00" r="4.6" fill="url(#g4)"/><circle cx="637.77" cy="112.60" r="4.6" fill="url(#g4)"/><circle cx="650.85" cy="112.00" r="4.6" fill="url(#g4)"/><circle cx="663.92" cy="111.00" r="4.6" fill="url(#g4)"/><circle cx="677.00" cy="112.00" r="4.6" fill="url(#g4)"/><g clip-path="url(#clipB)"><path d="M421.05,13.84L423.03,13.56M434.18,12.80L436.05,12.80M447.25,12.80L449.12,12.80M460.32,13.10L462.21,13.20M473.35,12.78L475.32,12.52M486.36,12.93L488.47,13.37M499.55,14.54L501.43,14.56M512.20,16.74L514.92,17.86M525.04,22.64L528.24,24.36M537.10,30.99L542.32,36.31M549.73,44.69L555.85,52.41M561.90,61.77L569.83,77.13M574.33,87.36L583.54,112.44M589.51,121.59L594.52,126.41M603.82,128.41L606.36,127.49M616.53,122.90L619.79,121.10M630.24,117.59L632.23,117.31M643.23,115.25L645.39,114.75M656.44,113.12L658.34,112.98M669.52,112.47L671.40,112.43" fill="none" stroke="#2b0404" stroke-width="2.4" stroke-linecap="butt"/></g><circle cx="415.50" cy="14.60" r="4.6" fill="url(#g5)"/><circle cx="428.57" cy="12.80" r="4.6" fill="url(#g5)"/><circle cx="441.65" cy="12.80" r="4.6" fill="url(#g5)"/><circle cx="454.73" cy="12.80" r="4.6" fill="url(#g5)"/><circle cx="467.80" cy="13.50" r="4.6" fill="url(#g5)"/><circle cx="480.88" cy="11.80" r="4.6" fill="url(#g5)"/><circle cx="493.95" cy="14.50" r="4.6" fill="url(#g5)"/><circle cx="507.02" cy="14.60" r="4.6" fill="url(#g5)"/><circle cx="520.10" cy="20.00" r="4.6" fill="url(#g5)"/><circle cx="533.17" cy="27.00" r="4.6" fill="url(#g5)"/><circle cx="546.25" cy="40.30" r="4.6" fill="url(#g5)"/><circle cx="559.33" cy="56.80" r="4.6" fill="url(#g5)"/><circle cx="572.40" cy="82.10" r="4.6" fill="url(#g5)"/><circle cx="585.48" cy="117.70" r="4.6" fill="url(#g5)"/><circle cx="598.55" cy="130.30" r="4.6" fill="url(#g5)"/><circle cx="611.62" cy="125.60" r="4.6" fill="url(#g5)"/><circle cx="624.70" cy="118.40" r="4.6" fill="url(#g5)"/><circle cx="637.77" cy="116.50" r="4.6" fill="url(#g5)"/><circle cx="650.85" cy="113.50" r="4.6" fill="url(#g5)"/><circle cx="663.92" cy="112.60" r="4.6" fill="url(#g5)"/><circle cx="677.00" cy="112.30" r="4.6" fill="url(#g5)"/><rect x="416.3" y="79.8" width="46.2" height="91" fill="#ffffff" fill-opacity="0.75" stroke="#c8c8c8" stroke-width="1"/><line x1="417" y1="90.00" x2="438.6" y2="90.00" stroke="#ffc000" stroke-width="2"/><circle cx="427.60" cy="90.00" r="4.4" fill="url(#g0)"/><text transform="translate(441.00,94.00)" font-size="12" text-anchor="start" fill="#000" ><tspan font-style="italic">L</tspan>20</text><line x1="417" y1="104.60" x2="438.6" y2="104.60" stroke="#fb8c0c" stroke-width="2"/><circle cx="427.60" cy="104.60" r="4.4" fill="url(#g1)"/><text transform="translate(441.00,108.60)" font-size="12" text-anchor="start" fill="#000" ><tspan font-style="italic">L</tspan>22</text><line x1="417" y1="119.20" x2="438.6" y2="119.20" stroke="#fa5c08" stroke-width="2"/><circle cx="427.60" cy="119.20" r="4.4" fill="url(#g2)"/><text transform="translate(441.00,123.20)" font-size="12" text-anchor="start" fill="#000" ><tspan font-style="italic">L</tspan>24</text><line x1="417" y1="133.80" x2="438.6" y2="133.80" stroke="#f53c24" stroke-width="2"/><circle cx="427.60" cy="133.80" r="4.4" fill="url(#g3)"/><text transform="translate(441.00,137.80)" font-size="12" text-anchor="start" fill="#000" ><tspan font-style="italic">L</tspan>26</text><line x1="417" y1="148.40" x2="438.6" y2="148.40" stroke="#dc1208" stroke-width="2"/><circle cx="427.60" cy="148.40" r="4.4" fill="url(#g4)"/><text transform="translate(441.00,152.40)" font-size="12" text-anchor="start" fill="#000" ><tspan font-style="italic">L</tspan>28</text><line x1="417" y1="163.00" x2="438.6" y2="163.00" stroke="#2b0404" stroke-width="2"/><circle cx="427.60" cy="163.00" r="4.4" fill="url(#g5)"/><text transform="translate(441.00,167.00)" font-size="12" text-anchor="start" fill="#000" ><tspan font-style="italic">L</tspan>29</text><rect x="409.5" y="0.7" width="274.29999999999995" height="177.60000000000002" fill="none" stroke="#000" stroke-width="1.6"/><line x1="415.50" y1="178.3" x2="415.50" y2="172.3" stroke="#000" stroke-width="1.4"/><line x1="415.50" y1="0.7" x2="415.50" y2="6.7" stroke="#000" stroke-width="1.4"/><line x1="480.88" y1="178.3" x2="480.88" y2="172.3" stroke="#000" stroke-width="1.4"/><line x1="480.88" y1="0.7" x2="480.88" y2="6.7" stroke="#000" stroke-width="1.4"/><line x1="546.25" y1="178.3" x2="546.25" y2="172.3" stroke="#000" stroke-width="1.4"/><line x1="546.25" y1="0.7" x2="546.25" y2="6.7" stroke="#000" stroke-width="1.4"/><line x1="611.62" y1="178.3" x2="611.62" y2="172.3" stroke="#000" stroke-width="1.4"/><line x1="611.62" y1="0.7" x2="611.62" y2="6.7" stroke="#000" stroke-width="1.4"/><line x1="677.00" y1="178.3" x2="677.00" y2="172.3" stroke="#000" stroke-width="1.4"/><line x1="677.00" y1="0.7" x2="677.00" y2="6.7" stroke="#000" stroke-width="1.4"/><line x1="448.19" y1="178.3" x2="448.19" y2="175.10000000000002" stroke="#000" stroke-width="1.4"/><line x1="448.19" y1="0.7" x2="448.19" y2="3.9000000000000004" stroke="#000" stroke-width="1.4"/><line x1="513.56" y1="178.3" x2="513.56" y2="175.10000000000002" stroke="#000" stroke-width="1.4"/><line x1="513.56" y1="0.7" x2="513.56" y2="3.9000000000000004" stroke="#000" stroke-width="1.4"/><line x1="578.94" y1="178.3" x2="578.94" y2="175.10000000000002" stroke="#000" stroke-width="1.4"/><line x1="578.94" y1="0.7" x2="578.94" y2="3.9000000000000004" stroke="#000" stroke-width="1.4"/><line x1="644.31" y1="178.3" x2="644.31" y2="175.10000000000002" stroke="#000" stroke-width="1.4"/><line x1="644.31" y1="0.7" x2="644.31" y2="3.9000000000000004" stroke="#000" stroke-width="1.4"/><line x1="409.5" y1="14.20" x2="415.5" y2="14.20" stroke="#000" stroke-width="1.4"/><line x1="683.8" y1="14.20" x2="677.8" y2="14.20" stroke="#000" stroke-width="1.4"/><line x1="409.5" y1="41.60" x2="415.5" y2="41.60" stroke="#000" stroke-width="1.4"/><line x1="683.8" y1="41.60" x2="677.8" y2="41.60" stroke="#000" stroke-width="1.4"/><line x1="409.5" y1="96.40" x2="415.5" y2="96.40" stroke="#000" stroke-width="1.4"/><line x1="683.8" y1="96.40" x2="677.8" y2="96.40" stroke="#000" stroke-width="1.4"/><line x1="409.5" y1="151.20" x2="415.5" y2="151.20" stroke="#000" stroke-width="1.4"/><line x1="683.8" y1="151.20" x2="677.8" y2="151.20" stroke="#000" stroke-width="1.4"/><line x1="409.5" y1="69.00" x2="412.7" y2="69.00" stroke="#000" stroke-width="1.4"/><line x1="683.8" y1="69.00" x2="680.5999999999999" y2="69.00" stroke="#000" stroke-width="1.4"/><line x1="409.5" y1="123.80" x2="412.7" y2="123.80" stroke="#000" stroke-width="1.4"/><line x1="683.8" y1="123.80" x2="680.5999999999999" y2="123.80" stroke="#000" stroke-width="1.4"/><text transform="translate(401.20,19.70) scale(1.07,1)" font-size="16" text-anchor="end" fill="#000" >0.53</text><text transform="translate(401.20,47.10) scale(1.07,1)" font-size="16" text-anchor="end" fill="#000" >0.52</text><text transform="translate(401.20,101.90) scale(1.07,1)" font-size="16" text-anchor="end" fill="#000" >0.50</text><text transform="translate(401.20,156.70) scale(1.07,1)" font-size="16" text-anchor="end" fill="#000" >0.48</text><text transform="translate(415.50,198.50) scale(1.07,1)" font-size="16" text-anchor="middle" fill="#000" >0</text><text transform="translate(480.88,198.50) scale(1.07,1)" font-size="16" text-anchor="middle" fill="#000" >0.5</text><text transform="translate(546.25,198.50) scale(1.07,1)" font-size="16" text-anchor="middle" fill="#000" >1</text><text transform="translate(611.62,198.50) scale(1.07,1)" font-size="16" text-anchor="middle" fill="#000" >1.5</text><text transform="translate(677.00,198.50) scale(1.07,1)" font-size="16" text-anchor="middle" fill="#000" >2</text><text transform="translate(535.80,217.10) scale(1.12,1)" font-size="20" text-anchor="start" fill="#000" font-style="italic" >h</text><text transform="translate(547.00,222.50) scale(1.1,1)" font-size="13" text-anchor="start" fill="#000" font-style="italic" >P</text><text transform="translate(362.20,89.00) rotate(-90)" font-size="21" text-anchor="middle" fill="#000" font-style="italic" >r</text><text transform="translate(484.80,168.60) scale(1.06,1)" font-size="20" text-anchor="middle" fill="#000" >(b)</text><path d="M76.77,358.46L107.23,355.54M118.36,355.68L148.84,359.42M159.93,360.95L190.47,365.65M200.98,363.95L232.62,347.75M241.71,349.00L275.09,379.80M284.80,383.45L315.20,382.65" fill="none" stroke="#c4de50" stroke-width="2.2" stroke-linecap="butt"/><circle cx="71.20" cy="359.00" r="4.5" fill="url(#g6)"/><circle cx="112.80" cy="355.00" r="4.5" fill="url(#g6)"/><circle cx="154.40" cy="360.10" r="4.5" fill="url(#g6)"/><circle cx="196.00" cy="366.50" r="4.5" fill="url(#g6)"/><circle cx="237.60" cy="345.20" r="4.5" fill="url(#g6)"/><circle cx="279.20" cy="383.60" r="4.5" fill="url(#g6)"/><circle cx="320.80" cy="382.50" r="4.5" fill="url(#g6)"/><path d="M76.60,352.47L107.40,360.83M118.25,363.57L148.95,370.73M159.48,369.63L190.92,354.97M201.60,352.40L232.00,351.30M243.13,350.22L273.67,345.38M284.79,344.89L315.21,347.01" fill="none" stroke="#c6c86a" stroke-width="2.2" stroke-linecap="butt"/><circle cx="71.20" cy="351.00" r="4.5" fill="url(#g7)"/><circle cx="112.80" cy="362.30" r="4.5" fill="url(#g7)"/><circle cx="154.40" cy="372.00" r="4.5" fill="url(#g7)"/><circle cx="196.00" cy="352.60" r="4.5" fill="url(#g7)"/><circle cx="237.60" cy="351.10" r="4.5" fill="url(#g7)"/><circle cx="279.20" cy="344.50" r="4.5" fill="url(#g7)"/><circle cx="320.80" cy="347.40" r="4.5" fill="url(#g7)"/><path d="M76.80,328.53L107.20,328.67M117.86,331.11L149.34,346.09M159.78,346.94L190.62,337.96M201.56,335.72L232.04,331.98M243.15,330.57L273.65,326.53M284.80,325.68L315.20,325.02" fill="none" stroke="#beb46a" stroke-width="2.2" stroke-linecap="butt"/><circle cx="71.20" cy="328.50" r="4.5" fill="url(#g8)"/><circle cx="112.80" cy="328.70" r="4.5" fill="url(#g8)"/><circle cx="154.40" cy="348.50" r="4.5" fill="url(#g8)"/><circle cx="196.00" cy="336.40" r="4.5" fill="url(#g8)"/><circle cx="237.60" cy="331.30" r="4.5" fill="url(#g8)"/><circle cx="279.20" cy="325.80" r="4.5" fill="url(#g8)"/><circle cx="320.80" cy="324.90" r="4.5" fill="url(#g8)"/><path d="M76.56,297.52L107.44,306.88M118.40,308.43L148.80,308.07M160.00,307.99L190.40,307.91M201.44,306.55L232.16,298.95M243.15,296.83L273.65,292.57M284.78,291.32L315.22,288.68" fill="none" stroke="#c0a262" stroke-width="2.2" stroke-linecap="butt"/><circle cx="71.20" cy="295.90" r="4.5" fill="url(#g9)"/><circle cx="112.80" cy="308.50" r="4.5" fill="url(#g9)"/><circle cx="154.40" cy="308.00" r="4.5" fill="url(#g9)"/><circle cx="196.00" cy="307.90" r="4.5" fill="url(#g9)"/><circle cx="237.60" cy="297.60" r="4.5" fill="url(#g9)"/><circle cx="279.20" cy="291.80" r="4.5" fill="url(#g9)"/><circle cx="320.80" cy="288.20" r="4.5" fill="url(#g9)"/><path d="M76.67,260.58L107.33,267.22M118.40,268.53L148.80,269.27M160.00,269.18L190.40,268.02M201.56,267.16L232.04,263.64M243.15,262.24L273.65,258.06M284.68,256.15L315.32,249.75" fill="none" stroke="#a88070" stroke-width="2.2" stroke-linecap="butt"/><circle cx="71.20" cy="259.40" r="4.5" fill="url(#g10)"/><circle cx="112.80" cy="268.40" r="4.5" fill="url(#g10)"/><circle cx="154.40" cy="269.40" r="4.5" fill="url(#g10)"/><circle cx="196.00" cy="267.80" r="4.5" fill="url(#g10)"/><circle cx="237.60" cy="263.00" r="4.5" fill="url(#g10)"/><circle cx="279.20" cy="257.30" r="4.5" fill="url(#g10)"/><circle cx="320.80" cy="248.60" r="4.5" fill="url(#g10)"/><path d="M76.76,244.07L107.24,247.73M118.39,248.71L148.81,250.39M160.00,250.75L190.40,251.05M201.56,250.46L232.04,246.94M243.15,245.54L273.65,241.36M284.76,239.96L315.24,236.44" fill="none" stroke="#4a1250" stroke-width="2.2" stroke-linecap="butt"/><circle cx="71.20" cy="243.40" r="4.5" fill="url(#g11)"/><circle cx="112.80" cy="248.40" r="4.5" fill="url(#g11)"/><circle cx="154.40" cy="250.70" r="4.5" fill="url(#g11)"/><circle cx="196.00" cy="251.10" r="4.5" fill="url(#g11)"/><circle cx="237.60" cy="246.30" r="4.5" fill="url(#g11)"/><circle cx="279.20" cy="240.60" r="4.5" fill="url(#g11)"/><circle cx="320.80" cy="235.80" r="4.5" fill="url(#g11)"/><rect x="65.3" y="308.6" width="46" height="90" fill="#ffffff" fill-opacity="0.8" stroke="#c8c8c8" stroke-width="1"/><line x1="66" y1="317.70" x2="88.8" y2="317.70" stroke="#c4de50" stroke-width="2"/><circle cx="77.30" cy="317.70" r="4.4" fill="url(#g6)"/><text transform="translate(90.60,321.70)" font-size="12" text-anchor="start" fill="#000" ><tspan font-style="italic">L</tspan>20</text><line x1="66" y1="332.35" x2="88.8" y2="332.35" stroke="#c6c86a" stroke-width="2"/><circle cx="77.30" cy="332.35" r="4.4" fill="url(#g7)"/><text transform="translate(90.60,336.35)" font-size="12" text-anchor="start" fill="#000" ><tspan font-style="italic">L</tspan>22</text><line x1="66" y1="347.00" x2="88.8" y2="347.00" stroke="#beb46a" stroke-width="2"/><circle cx="77.30" cy="347.00" r="4.4" fill="url(#g8)"/><text transform="translate(90.60,351.00)" font-size="12" text-anchor="start" fill="#000" ><tspan font-style="italic">L</tspan>24</text><line x1="66" y1="361.65" x2="88.8" y2="361.65" stroke="#c0a262" stroke-width="2"/><circle cx="77.30" cy="361.65" r="4.4" fill="url(#g9)"/><text transform="translate(90.60,365.65)" font-size="12" text-anchor="start" fill="#000" ><tspan font-style="italic">L</tspan>26</text><line x1="66" y1="376.30" x2="88.8" y2="376.30" stroke="#a88070" stroke-width="2"/><circle cx="77.30" cy="376.30" r="4.4" fill="url(#g10)"/><text transform="translate(90.60,380.30)" font-size="12" text-anchor="start" fill="#000" ><tspan font-style="italic">L</tspan>28</text><line x1="66" y1="390.95" x2="88.8" y2="390.95" stroke="#4a1250" stroke-width="2"/><circle cx="77.30" cy="390.95" r="4.4" fill="url(#g11)"/><text transform="translate(90.60,394.95)" font-size="12" text-anchor="start" fill="#000" ><tspan font-style="italic">L</tspan>29</text><rect x="58.8" y="228.0" width="274.2" height="178.3" fill="none" stroke="#000" stroke-width="1.6"/><line x1="112.80" y1="406.3" x2="112.80" y2="400.3" stroke="#000" stroke-width="1.4"/><line x1="112.80" y1="228.0" x2="112.80" y2="234.0" stroke="#000" stroke-width="1.4"/><line x1="196.00" y1="406.3" x2="196.00" y2="400.3" stroke="#000" stroke-width="1.4"/><line x1="196.00" y1="228.0" x2="196.00" y2="234.0" stroke="#000" stroke-width="1.4"/><line x1="279.20" y1="406.3" x2="279.20" y2="400.3" stroke="#000" stroke-width="1.4"/><line x1="279.20" y1="228.0" x2="279.20" y2="234.0" stroke="#000" stroke-width="1.4"/><line x1="71.20" y1="406.3" x2="71.20" y2="403.1" stroke="#000" stroke-width="1.4"/><line x1="71.20" y1="228.0" x2="71.20" y2="231.2" stroke="#000" stroke-width="1.4"/><line x1="154.40" y1="406.3" x2="154.40" y2="403.1" stroke="#000" stroke-width="1.4"/><line x1="154.40" y1="228.0" x2="154.40" y2="231.2" stroke="#000" stroke-width="1.4"/><line x1="237.60" y1="406.3" x2="237.60" y2="403.1" stroke="#000" stroke-width="1.4"/><line x1="237.60" y1="228.0" x2="237.60" y2="231.2" stroke="#000" stroke-width="1.4"/><line x1="320.80" y1="406.3" x2="320.80" y2="403.1" stroke="#000" stroke-width="1.4"/><line x1="320.80" y1="228.0" x2="320.80" y2="231.2" stroke="#000" stroke-width="1.4"/><line x1="58.8" y1="255.30" x2="64.8" y2="255.30" stroke="#000" stroke-width="1.4"/><line x1="333.0" y1="255.30" x2="327.0" y2="255.30" stroke="#000" stroke-width="1.4"/><line x1="58.8" y1="296.25" x2="64.8" y2="296.25" stroke="#000" stroke-width="1.4"/><line x1="333.0" y1="296.25" x2="327.0" y2="296.25" stroke="#000" stroke-width="1.4"/><line x1="58.8" y1="337.20" x2="64.8" y2="337.20" stroke="#000" stroke-width="1.4"/><line x1="333.0" y1="337.20" x2="327.0" y2="337.20" stroke="#000" stroke-width="1.4"/><line x1="58.8" y1="378.15" x2="64.8" y2="378.15" stroke="#000" stroke-width="1.4"/><line x1="333.0" y1="378.15" x2="327.0" y2="378.15" stroke="#000" stroke-width="1.4"/><line x1="58.8" y1="234.83" x2="62.0" y2="234.83" stroke="#000" stroke-width="1.4"/><line x1="333.0" y1="234.83" x2="329.8" y2="234.83" stroke="#000" stroke-width="1.4"/><line x1="58.8" y1="275.78" x2="62.0" y2="275.78" stroke="#000" stroke-width="1.4"/><line x1="333.0" y1="275.78" x2="329.8" y2="275.78" stroke="#000" stroke-width="1.4"/><line x1="58.8" y1="316.73" x2="62.0" y2="316.73" stroke="#000" stroke-width="1.4"/><line x1="333.0" y1="316.73" x2="329.8" y2="316.73" stroke="#000" stroke-width="1.4"/><line x1="58.8" y1="357.68" x2="62.0" y2="357.68" stroke="#000" stroke-width="1.4"/><line x1="333.0" y1="357.68" x2="329.8" y2="357.68" stroke="#000" stroke-width="1.4"/><line x1="58.8" y1="398.62" x2="62.0" y2="398.62" stroke="#000" stroke-width="1.4"/><line x1="333.0" y1="398.62" x2="329.8" y2="398.62" stroke="#000" stroke-width="1.4"/><text transform="translate(50.80,233.50) scale(1.07,1)" font-size="16" text-anchor="end" fill="#000" >0.53</text><text transform="translate(50.80,260.80) scale(1.07,1)" font-size="16" text-anchor="end" fill="#000" >0.51</text><text transform="translate(50.80,301.75) scale(1.07,1)" font-size="16" text-anchor="end" fill="#000" >0.48</text><text transform="translate(50.80,342.70) scale(1.07,1)" font-size="16" text-anchor="end" fill="#000" >0.45</text><text transform="translate(50.80,383.65) scale(1.07,1)" font-size="16" text-anchor="end" fill="#000" >0.42</text><text transform="translate(112.80,426.80) scale(1.07,1)" font-size="16" text-anchor="middle" fill="#000" >0.022</text><text transform="translate(196.00,426.80) scale(1.07,1)" font-size="16" text-anchor="middle" fill="#000" >0.024</text><text transform="translate(279.20,426.80) scale(1.07,1)" font-size="16" text-anchor="middle" fill="#000" >0.026</text><text transform="translate(181.40,448.90) scale(1.12,1)" font-size="20" text-anchor="start" fill="#000" font-style="italic" >h</text><text transform="translate(192.80,455.50) scale(1.1,1)" font-size="13.5" text-anchor="start" fill="#000" font-style="italic" >XZ</text><text transform="translate(11.90,316.00) rotate(-90)" font-size="21" text-anchor="middle" fill="#000" font-style="italic" >r</text><text transform="translate(134.00,396.00) scale(1.06,1)" font-size="20" text-anchor="middle" fill="#000" >(c)</text><clipPath id="clipD"><rect x="410.0" y="228.3" width="273.20000000000005" height="177.7"/></clipPath><g clip-path="url(#clipD)"><polyline points="408.00,225.00 409.00,225.49 410.00,225.96 411.00,226.45 412.00,227.00 413.00,227.64 414.00,228.42 415.00,229.41 416.00,230.55 417.00,231.82 418.00,233.18 419.00,234.60 420.00,236.06 421.00,237.54 422.00,239.08 423.00,240.70 424.00,242.39 425.00,244.18 426.00,246.08 427.00,248.12 428.00,250.31 429.00,252.62 430.00,255.00 431.00,257.54 432.00,260.23 433.00,262.93 434.00,265.46 435.00,267.75 436.00,269.91 437.00,271.98 438.00,273.96 439.00,275.88 440.00,277.74 441.00,279.56 442.00,281.32 443.00,282.99 444.00,284.54 445.00,285.93 446.00,287.16 447.00,288.24 448.00,289.21 449.00,290.07 450.00,290.85 451.00,291.56 452.00,292.16 453.00,292.68 454.00,293.10 455.00,293.45 456.00,293.73 457.00,293.93 458.00,294.05 459.00,294.08 460.00,294.06 461.00,294.00 462.00,293.90 463.00,293.77 464.00,293.61 465.00,293.43 466.00,293.25 467.00,293.06 468.00,292.87 469.00,292.69 470.00,292.51 471.00,292.33 472.00,292.14 473.00,291.95 474.00,291.75 475.00,291.56 476.00,291.37 477.00,291.18 478.00,291.00 479.00,290.83 480.00,290.67 481.00,290.53 482.00,290.37 483.00,290.21 484.00,290.07 485.00,289.97 486.00,289.96 487.00,290.02 488.00,290.17 489.00,290.38 490.00,290.63 491.00,290.93 492.00,291.27 493.00,291.63 494.00,292.01 495.00,292.41 496.00,292.83 497.00,293.26 498.00,293.68 499.00,294.12 500.00,294.58 501.00,295.06 502.00,295.59 503.00,296.17 504.00,296.81 505.00,297.53 506.00,298.31 507.00,299.17 508.00,300.08 509.00,301.04 510.00,302.05 511.00,303.10 512.00,304.18 513.00,305.29 514.00,306.42 515.00,307.60 516.00,308.88 517.00,310.20 518.00,311.55 519.00,312.91 520.00,314.24 521.00,315.52 522.00,316.72 523.00,317.82 524.00,318.88 525.00,319.90 526.00,320.89 527.00,321.83 528.00,322.71 529.00,323.53 530.00,324.26 531.00,324.91 532.00,325.46 533.00,325.93 534.00,326.30 535.00,326.60 536.00,326.83 537.00,326.99 538.00,327.10 539.00,327.16 540.00,327.19 541.00,327.18 542.00,327.06 543.00,326.88 544.00,326.66 545.00,326.41 546.00,326.15 547.00,325.90 548.00,325.67 549.00,325.50 550.00,325.40 551.00,325.43 552.00,325.56 553.00,325.80 554.00,326.16 555.00,326.65 556.00,327.22 557.00,327.32 558.00,327.47 559.00,327.73 560.00,328.11 561.00,328.59 562.00,329.19 563.00,329.91 564.00,330.75 565.00,331.72 566.00,332.88 567.00,334.18 568.00,335.61 569.00,337.11 570.00,338.65 571.00,340.18 572.00,341.68 573.00,343.19 574.00,344.69 575.00,345.64 576.00,346.54 576.40,346.88 577.01,346.59 577.62,345.71 578.22,344.25 578.83,342.25 579.44,339.73 580.05,336.73 580.66,333.31 581.26,329.50 581.87,325.38 582.48,321.01 583.09,316.46 583.70,311.79 584.30,307.09 584.91,302.43 585.52,297.87 586.13,293.50 586.74,289.38 587.34,285.58 587.95,282.15 588.56,279.15 589.17,276.63 589.78,274.63 590.38,273.18 590.99,272.30 591.60,272.00 592.21,272.30 592.81,273.20 593.42,274.65 594.02,276.61 594.63,279.00 595.24,281.72 595.84,284.68 596.45,287.75 597.06,290.82 597.66,293.78 598.27,296.50 598.88,298.89 599.48,300.85 600.09,302.30 600.69,303.20 601.30,303.50 601.91,302.83 602.52,300.84 603.13,297.59 603.74,293.14 604.35,287.61 604.96,281.14 605.57,273.88 606.18,266.01 606.79,257.74 607.40,249.25 608.01,240.76 608.62,232.49 609.23,224.62 609.84,217.36 610.45,210.89 611.06,205.36 611.67,200.91 612.28,197.66 612.89,195.67 613.50,195.00 614.12,195.55 614.73,197.17 615.35,199.81 615.97,203.40 616.58,207.82 617.20,212.95 617.82,218.62 618.43,224.67 619.05,230.90 619.67,237.13 620.28,243.18 620.90,248.85 621.52,253.98 622.13,258.40 622.75,261.99 623.37,264.63 623.98,266.25 624.60,266.80 625.23,266.31 625.85,264.85 626.48,262.47 627.11,259.23 627.73,255.21 628.36,250.54 628.98,245.32 629.61,239.71 630.24,233.86 630.86,227.94 631.49,222.09 632.12,216.48 632.74,211.26 633.37,206.59 633.99,202.57 634.62,199.33 635.25,196.95 635.87,195.49 636.50,195.00 637.12,195.35 637.73,196.39 638.35,198.11 638.96,200.44 639.58,203.35 640.19,206.75 640.80,210.56 641.42,214.69 642.03,219.04 642.65,223.50 643.26,227.96 643.88,232.31 644.50,236.44 645.11,240.25 645.72,243.65 646.34,246.56 646.95,248.89 647.57,250.61 648.18,251.65 648.80,252.00 649.40,251.86 650.00,251.46 650.60,250.80 651.20,249.91 651.80,248.82 652.40,247.57 653.00,246.19 653.60,244.74 654.20,243.26 654.80,241.81 655.40,240.43 656.00,239.18 656.60,238.09 657.20,237.20 657.80,236.54 658.40,236.14 659.00,236.00 659.61,236.07 660.21,236.28 660.82,236.63 661.43,237.11 662.04,237.72 662.64,238.45 663.25,239.30 663.86,240.24 664.46,241.26 665.07,242.37 665.68,243.53 666.29,244.75 666.89,245.99 667.50,247.25 668.11,248.51 668.71,249.75 669.32,250.97 669.93,252.13 670.54,253.24 671.14,254.26 671.75,255.20 672.36,256.05 672.96,256.78 673.57,257.39 674.18,257.87 674.79,258.22 675.39,258.43 676.00,258.50 676.60,258.44 677.20,258.25 677.80,257.95 678.40,257.53 679.00,256.99 679.60,256.35 680.20,255.61 680.80,254.78 681.40,253.86 682.00,252.88 682.60,251.83 683.20,250.73 683.80,249.59 684.40,248.43 685.00,247.25 685.60,246.07 686.20,244.91 686.80,243.77 687.40,242.67 688.00,241.62 688.60,240.64 689.20,239.72 689.80,238.89 690.40,238.15 691.00,237.51 691.60,236.97 692.20,236.55 692.80,236.25 693.40,236.06 694.00,236.00" fill="none" stroke="#e2f88c" stroke-width="2.6" stroke-linejoin="round" stroke-linecap="round" /></g><g clip-path="url(#clipD)"><polyline points="408.00,225.00 409.00,225.49 410.00,225.96 411.00,226.45 412.00,227.00 413.00,227.64 414.00,228.42 415.00,229.41 416.00,230.55 417.00,231.82 418.00,233.18 419.00,234.60 420.00,236.06 421.00,237.54 422.00,239.08 423.00,240.70 424.00,242.39 425.00,244.18 426.00,246.08 427.00,248.12 428.00,250.31 429.00,252.62 430.00,255.00 431.00,257.54 432.00,260.23 433.00,262.93 434.00,265.46 435.00,267.75 436.00,269.91 437.00,271.98 438.00,273.96 439.00,275.88 440.00,277.74 441.00,279.56 442.00,281.32 443.00,282.99 444.00,284.54 445.00,285.93 446.00,287.16 447.00,288.24 448.00,289.21 449.00,290.07 450.00,290.85 451.00,291.56 452.00,292.16 453.00,292.68 454.00,293.10 455.00,293.45 456.00,293.73 457.00,293.93 458.00,294.05 459.00,294.08 460.00,294.06 461.00,294.00 462.00,293.90 463.00,293.77 464.00,293.61 465.00,293.43 466.00,293.25 467.00,293.06 468.00,292.87 469.00,292.69 470.00,292.51 471.00,292.33 472.00,292.14 473.00,291.95 474.00,291.75 475.00,291.56 476.00,291.37 477.00,291.18 478.00,291.00 479.00,290.83 480.00,290.67 481.00,290.53 482.00,290.37 483.00,290.21 484.00,290.07 485.00,289.97 486.00,289.96 487.00,290.02 488.00,290.17 489.00,290.38 490.00,290.63 491.00,290.93 492.00,291.27 493.00,291.63 494.00,292.01 495.00,292.41 496.00,292.83 497.00,293.26 498.00,293.68 499.00,294.12 500.00,294.58 501.00,295.06 502.00,295.59 503.00,296.17 504.00,296.81 505.00,297.53 506.00,298.31 507.00,299.17 508.00,300.08 509.00,301.04 510.00,302.05 511.00,303.10 512.00,304.18 513.00,305.29 514.00,306.42 515.00,307.60 516.00,308.88 517.00,310.20 518.00,311.55 519.00,312.91 520.00,314.24 521.00,315.52 522.00,316.72 523.00,317.82 524.00,318.88 525.00,319.90 526.00,320.89 527.00,321.83 528.00,322.71 529.00,323.53 530.00,324.26 531.00,324.91 532.00,325.46 533.00,325.93 534.00,326.30 535.00,326.60 536.00,326.83 537.00,326.99 538.00,327.10 539.00,327.16 540.00,327.19 541.00,327.18 542.00,327.06 543.00,326.88 544.00,326.66 545.00,326.41 546.00,326.15 547.00,325.90 548.00,325.67 549.00,325.50 550.00,325.40 551.00,325.43 552.00,325.56 553.00,325.80 554.00,326.16 555.00,326.65 556.00,327.22 557.00,327.84 558.00,328.50 559.00,329.23 560.00,330.03 561.00,330.89 562.00,331.79 563.00,332.73 564.00,333.70 565.00,334.72 566.00,335.83 567.00,337.00 568.00,338.21 569.00,339.41 570.00,340.58 571.00,341.68 572.00,342.71 573.00,343.71 574.00,344.69 575.00,345.64 576.00,346.54 577.00,347.38 578.00,348.16 579.00,348.87 580.00,349.51 581.00,350.09 582.00,350.61 583.00,351.07 584.00,351.49 584.30,351.60 584.92,351.49 585.54,351.16 586.16,350.61 586.78,349.85 587.40,348.90 588.02,347.76 588.63,346.45 589.25,344.99 589.87,343.41 590.49,341.73 591.11,339.96 591.73,338.15 592.35,336.30 592.97,334.46 593.59,332.64 594.21,330.88 594.83,329.19 595.45,327.61 596.07,326.15 596.68,324.85 597.30,323.71 597.92,322.75 598.54,321.99 599.16,321.44 599.78,321.11 600.40,321.00 601.02,321.26 601.65,322.02 602.27,323.24 602.90,324.82 603.52,326.67 604.15,328.65 604.77,330.63 605.40,332.48 606.02,334.06 606.65,335.28 607.27,336.04 607.90,336.30 608.50,335.92 609.11,334.79 609.71,332.92 610.32,330.35 610.92,327.12 611.52,323.30 612.13,318.93 612.73,314.10 613.34,308.89 613.94,303.39 614.55,297.70 615.15,291.90 615.75,286.10 616.36,280.41 616.96,274.91 617.57,269.70 618.17,264.87 618.77,260.50 619.38,256.68 619.98,253.45 620.59,250.88 621.19,249.01 621.80,247.88 622.40,247.50 623.01,248.01 623.61,249.50 624.22,251.92 624.83,255.16 625.43,259.07 626.04,263.50 626.65,268.23 627.25,273.07 627.86,277.80 628.47,282.23 629.07,286.14 629.68,289.38 630.29,291.80 630.89,293.29 631.50,293.80 632.11,293.24 632.71,291.58 633.32,288.87 633.92,285.18 634.53,280.60 635.13,275.27 635.74,269.33 636.34,262.94 636.95,256.28 637.55,249.52 638.16,242.86 638.76,236.47 639.37,230.53 639.97,225.20 640.58,220.62 641.18,216.93 641.79,214.22 642.39,212.56 643.00,212.00 643.62,212.52 644.25,214.06 644.88,216.55 645.50,219.91 646.12,224.00 646.75,228.67 647.38,233.73 648.00,239.00 648.62,244.27 649.25,249.33 649.88,254.00 650.50,258.09 651.12,261.45 651.75,263.94 652.38,265.48 653.00,266.00 653.62,265.71 654.24,264.85 654.86,263.47 655.48,261.62 656.10,259.38 656.72,256.84 657.34,254.14 657.96,251.36 658.58,248.66 659.20,246.12 659.82,243.88 660.44,242.03 661.06,240.65 661.68,239.79 662.30,239.50 662.91,239.59 663.52,239.85 664.14,240.27 664.75,240.86 665.36,241.60 665.97,242.48 666.58,243.49 667.20,244.61 667.81,245.82 668.42,247.10 669.03,248.44 669.64,249.81 670.26,251.19 670.87,252.56 671.48,253.90 672.09,255.18 672.70,256.39 673.32,257.51 673.93,258.52 674.54,259.40 675.15,260.14 675.76,260.73 676.38,261.15 676.99,261.41 677.60,261.50 678.21,261.42 678.81,261.18 679.42,260.79 680.03,260.25 680.64,259.57 681.24,258.75 681.85,257.81 682.46,256.77 683.07,255.62 683.67,254.40 684.28,253.12 684.89,251.79 685.50,250.43 686.10,249.07 686.71,247.71 687.32,246.38 687.93,245.10 688.53,243.88 689.14,242.73 689.75,241.69 690.36,240.75 690.96,239.93 691.57,239.25 692.18,238.71 692.79,238.32 693.39,238.08 694.00,238.00" fill="none" stroke="#cce25c" stroke-width="2.6" stroke-linejoin="round" stroke-linecap="round" /></g><g clip-path="url(#clipD)"><polyline points="408.00,225.00 409.00,225.49 410.00,225.96 411.00,226.45 412.00,227.00 413.00,227.64 414.00,228.42 415.00,229.41 416.00,230.55 417.00,231.82 418.00,233.18 419.00,234.60 420.00,236.06 421.00,237.54 422.00,239.08 423.00,240.70 424.00,242.39 425.00,244.18 426.00,246.08 427.00,248.12 428.00,250.31 429.00,252.62 430.00,255.00 431.00,257.54 432.00,260.23 433.00,262.93 434.00,265.46 435.00,267.75 436.00,269.91 437.00,271.98 438.00,273.96 439.00,275.88 440.00,277.74 441.00,279.56 442.00,281.32 443.00,282.99 444.00,284.54 445.00,285.93 446.00,287.16 447.00,288.24 448.00,289.21 449.00,290.07 450.00,290.85 451.00,291.56 452.00,292.16 453.00,292.68 454.00,293.10 455.00,293.45 456.00,293.73 457.00,293.93 458.00,294.05 459.00,294.08 460.00,294.06 461.00,294.00 462.00,293.90 463.00,293.77 464.00,293.61 465.00,293.43 466.00,293.25 467.00,293.06 468.00,292.87 469.00,292.69 470.00,292.51 471.00,292.33 472.00,292.14 473.00,291.95 474.00,291.75 475.00,291.56 476.00,291.37 477.00,291.18 478.00,291.00 479.00,290.83 480.00,290.67 481.00,290.53 482.00,290.37 483.00,290.21 484.00,290.07 485.00,289.97 486.00,289.96 487.00,290.02 488.00,290.17 489.00,290.38 490.00,290.63 491.00,290.93 492.00,291.27 493.00,291.63 494.00,292.01 495.00,292.41 496.00,292.83 497.00,293.26 498.00,293.68 499.00,294.12 500.00,294.58 501.00,295.06 502.00,295.59 503.00,296.17 504.00,296.81 505.00,297.53 506.00,298.31 507.00,299.17 508.00,300.08 509.00,301.04 510.00,302.05 511.00,303.10 512.00,304.18 513.00,305.29 514.00,306.42 515.00,307.60 516.00,308.88 517.00,310.20 518.00,311.55 519.00,312.91 520.00,314.24 521.00,315.52 522.00,316.72 523.00,317.82 524.00,318.88 525.00,319.90 526.00,320.89 527.00,321.83 528.00,322.71 529.00,323.53 530.00,324.26 531.00,324.91 532.00,325.46 533.00,325.93 534.00,326.30 535.00,326.60 536.00,326.83 537.00,326.99 538.00,327.10 539.00,327.16 540.00,327.19 541.00,327.18 542.00,327.06 543.00,326.88 544.00,326.66 545.00,326.41 546.00,326.15 547.00,325.90 548.00,325.67 549.00,325.50 550.00,325.40 551.00,325.43 552.00,325.56 553.00,325.80 554.00,326.16 555.00,326.65 556.00,327.22 557.00,327.84 558.00,328.50 559.00,329.23 560.00,330.03 561.00,330.89 562.00,331.79 563.00,332.73 564.00,333.70 565.00,334.72 566.00,335.83 567.00,337.00 568.00,338.21 569.00,339.41 570.00,340.58 571.00,341.68 572.00,342.71 573.00,343.71 574.00,344.69 575.00,345.64 576.00,346.54 577.00,347.38 578.00,348.16 579.00,348.87 580.00,349.51 581.00,350.09 582.00,350.61 583.00,351.07 584.00,351.49 585.00,351.86 586.00,352.19 587.00,352.44 588.00,352.61 589.00,352.73 590.00,352.83 591.00,352.95 592.00,353.10 593.00,353.33 594.00,353.60 595.00,353.89 596.00,354.22 596.50,354.39 597.13,354.34 597.76,354.22 598.39,354.03 599.01,353.77 599.64,353.46 600.27,353.11 600.90,352.74 601.53,352.38 602.16,352.03 602.79,351.72 603.41,351.46 604.04,351.26 604.67,351.14 605.30,351.10 605.92,351.21 606.54,351.52 607.15,352.04 607.77,352.73 608.39,353.58 609.01,354.56 609.62,355.64 610.24,356.77 610.86,357.93 611.48,359.06 612.09,360.14 612.71,361.12 613.33,361.97 613.95,362.66 614.56,363.18 615.18,363.49 615.80,363.60 616.41,363.27 617.02,362.28 617.63,360.66 618.24,358.43 618.85,355.65 619.45,352.37 620.06,348.65 620.67,344.57 621.28,340.22 621.89,335.68 622.50,331.05 623.11,326.42 623.72,321.88 624.33,317.53 624.94,313.45 625.55,309.73 626.15,306.45 626.76,303.67 627.37,301.44 627.98,299.82 628.59,298.83 629.20,298.50 629.83,298.92 630.47,300.16 631.10,302.13 631.73,304.70 632.37,307.69 633.00,310.90 633.63,314.11 634.27,317.10 634.90,319.67 635.53,321.64 636.17,322.88 636.80,323.30 637.42,322.81 638.03,321.35 638.65,318.97 639.26,315.73 639.88,311.71 640.49,307.04 641.11,301.82 641.73,296.21 642.34,290.36 642.96,284.44 643.57,278.59 644.19,272.98 644.81,267.76 645.42,263.09 646.04,259.07 646.65,255.83 647.27,253.45 647.88,251.99 648.50,251.50 649.15,251.90 649.80,253.08 650.45,254.90 651.10,257.20 651.75,259.75 652.40,262.30 653.05,264.60 653.70,266.42 654.35,267.60 655.00,268.00 655.61,267.87 656.21,267.49 656.82,266.86 657.42,266.00 658.03,264.93 658.63,263.70 659.24,262.32 659.84,260.83 660.45,259.28 661.05,257.72 661.66,256.17 662.26,254.68 662.87,253.30 663.47,252.07 664.08,251.00 664.68,250.14 665.29,249.51 665.89,249.13 666.50,249.00 667.10,249.13 667.71,249.51 668.31,250.14 668.92,251.00 669.52,252.07 670.13,253.33 670.73,254.75 671.34,256.30 671.94,257.94 672.55,259.64 673.15,261.36 673.76,263.06 674.36,264.70 674.97,266.25 675.57,267.67 676.18,268.93 676.78,270.00 677.39,270.86 677.99,271.49 678.60,271.87 679.20,272.00 679.82,271.90 680.43,271.59 681.05,271.09 681.67,270.39 682.28,269.52 682.90,268.49 683.52,267.31 684.13,266.00 684.75,264.59 685.37,263.11 685.98,261.57 686.60,260.00 687.22,258.43 687.83,256.89 688.45,255.41 689.07,254.00 689.68,252.69 690.30,251.51 690.92,250.48 691.53,249.61 692.15,248.91 692.77,248.41 693.38,248.10 694.00,248.00" fill="none" stroke="#c8cc68" stroke-width="2.6" stroke-linejoin="round" stroke-linecap="round" /></g><g clip-path="url(#clipD)"><polyline points="408.00,225.00 409.00,225.49 410.00,225.96 411.00,226.45 412.00,227.00 413.00,227.64 414.00,228.42 415.00,229.41 416.00,230.55 417.00,231.82 418.00,233.18 419.00,234.60 420.00,236.06 421.00,237.54 422.00,239.08 423.00,240.70 424.00,242.39 425.00,244.18 426.00,246.08 427.00,248.12 428.00,250.31 429.00,252.62 430.00,255.00 431.00,257.54 432.00,260.23 433.00,262.93 434.00,265.46 435.00,267.75 436.00,269.91 437.00,271.98 438.00,273.96 439.00,275.88 440.00,277.74 441.00,279.56 442.00,281.32 443.00,282.99 444.00,284.54 445.00,285.93 446.00,287.16 447.00,288.24 448.00,289.21 449.00,290.07 450.00,290.85 451.00,291.56 452.00,292.16 453.00,292.68 454.00,293.10 455.00,293.45 456.00,293.73 457.00,293.93 458.00,294.05 459.00,294.08 460.00,294.06 461.00,294.00 462.00,293.90 463.00,293.77 464.00,293.61 465.00,293.43 466.00,293.25 467.00,293.06 468.00,292.87 469.00,292.69 470.00,292.51 471.00,292.33 472.00,292.14 473.00,291.95 474.00,291.75 475.00,291.56 476.00,291.37 477.00,291.18 478.00,291.00 479.00,290.83 480.00,290.67 481.00,290.53 482.00,290.37 483.00,290.21 484.00,290.07 485.00,289.97 486.00,289.96 487.00,290.02 488.00,290.17 489.00,290.38 490.00,290.63 491.00,290.93 492.00,291.27 493.00,291.63 494.00,292.01 495.00,292.41 496.00,292.83 497.00,293.26 498.00,293.68 499.00,294.12 500.00,294.58 501.00,295.06 502.00,295.59 503.00,296.17 504.00,296.81 505.00,297.53 506.00,298.31 507.00,299.17 508.00,300.08 509.00,301.04 510.00,302.05 511.00,303.10 512.00,304.18 513.00,305.29 514.00,306.42 515.00,307.60 516.00,308.88 517.00,310.20 518.00,311.55 519.00,312.91 520.00,314.24 521.00,315.52 522.00,316.72 523.00,317.82 524.00,318.88 525.00,319.90 526.00,320.89 527.00,321.83 528.00,322.71 529.00,323.53 530.00,324.26 531.00,324.91 532.00,325.46 533.00,325.93 534.00,326.30 535.00,326.60 536.00,326.83 537.00,326.99 538.00,327.10 539.00,327.16 540.00,327.19 541.00,327.18 542.00,327.06 543.00,326.88 544.00,326.66 545.00,326.41 546.00,326.15 547.00,325.90 548.00,325.67 549.00,325.50 550.00,325.40 551.00,325.43 552.00,325.56 553.00,325.80 554.00,326.16 555.00,326.65 556.00,327.22 557.00,327.84 558.00,328.50 559.00,329.23 560.00,330.03 561.00,330.89 562.00,331.79 563.00,332.73 564.00,333.70 565.00,334.72 566.00,335.83 567.00,337.00 568.00,338.21 569.00,339.41 570.00,340.58 571.00,341.68 572.00,342.71 573.00,343.71 574.00,344.69 575.00,345.64 576.00,346.54 577.00,347.38 578.00,348.16 579.00,348.87 580.00,349.51 581.00,350.09 582.00,350.61 583.00,351.07 584.00,351.49 585.00,351.86 586.00,352.19 587.00,352.44 588.00,352.61 589.00,352.73 590.00,352.83 591.00,352.95 592.00,353.10 593.00,353.33 594.00,353.60 595.00,353.89 596.00,354.22 597.00,354.56 598.00,354.94 599.00,355.35 600.00,355.80 601.00,356.28 602.00,356.80 603.00,357.36 604.00,357.99 605.00,358.71 606.00,359.50 607.00,360.41 608.00,361.43 609.00,362.51 610.00,363.60 611.00,364.68 612.00,365.69 613.00,366.60 614.00,367.41 615.00,368.15 616.00,368.84 617.00,369.49 618.00,370.11 619.00,370.71 620.00,371.30 621.00,371.86 621.50,372.13 622.11,371.98 622.73,371.53 623.34,370.80 623.95,369.78 624.57,368.52 625.18,367.01 625.79,365.31 626.40,363.43 627.02,361.41 627.63,359.29 628.24,357.11 628.86,354.92 629.47,352.74 630.08,350.62 630.70,348.60 631.31,346.72 631.92,345.02 632.53,343.51 633.15,342.25 633.76,341.23 634.37,340.50 634.99,340.05 635.60,339.90 636.23,340.18 636.85,341.01 637.48,342.32 638.10,344.02 638.73,346.01 639.35,348.15 639.98,350.29 640.60,352.27 641.23,353.98 641.85,355.29 642.48,356.12 643.10,356.40 643.72,355.84 644.34,354.20 644.95,351.51 645.57,347.88 646.19,343.43 646.81,338.30 647.42,332.69 648.04,326.76 648.66,320.74 649.28,314.81 649.89,309.20 650.51,304.07 651.13,299.62 651.75,295.99 652.36,293.30 652.98,291.66 653.60,291.10 654.23,291.46 654.86,292.54 655.49,294.26 656.11,296.56 656.74,299.31 657.37,302.37 658.00,305.60 658.63,308.83 659.26,311.89 659.89,314.64 660.51,316.94 661.14,318.66 661.77,319.74 662.40,320.10 663.03,319.62 663.66,318.19 664.29,315.88 664.92,312.76 665.56,308.97 666.19,304.64 666.82,299.94 667.45,295.05 668.08,290.16 668.71,285.46 669.34,281.13 669.98,277.34 670.61,274.22 671.24,271.91 671.87,270.48 672.50,270.00 673.11,270.12 673.71,270.46 674.32,271.02 674.92,271.79 675.53,272.74 676.13,273.85 676.74,275.09 677.34,276.41 677.95,277.80 678.55,279.20 679.16,280.59 679.76,281.91 680.37,283.15 680.97,284.26 681.58,285.21 682.18,285.98 682.79,286.54 683.39,286.88 684.00,287.00 684.60,286.91 685.20,286.63 685.80,286.18 686.40,285.57 687.00,284.80 687.60,283.91 688.20,282.90 688.80,281.82 689.40,280.67 690.00,279.50 690.60,278.33 691.20,277.18 691.80,276.10 692.40,275.09 693.00,274.20 693.60,273.43 694.20,272.82 694.80,272.37 695.40,272.09 696.00,272.00" fill="none" stroke="#c6be72" stroke-width="2.6" stroke-linejoin="round" stroke-linecap="round" /></g><g clip-path="url(#clipD)"><polyline points="408.00,225.00 409.00,225.49 410.00,225.96 411.00,226.45 412.00,227.00 413.00,227.64 414.00,228.42 415.00,229.41 416.00,230.55 417.00,231.82 418.00,233.18 419.00,234.60 420.00,236.06 421.00,237.54 422.00,239.08 423.00,240.70 424.00,242.39 425.00,244.18 426.00,246.08 427.00,248.12 428.00,250.31 429.00,252.62 430.00,255.00 431.00,257.54 432.00,260.23 433.00,262.93 434.00,265.46 435.00,267.75 436.00,269.91 437.00,271.98 438.00,273.96 439.00,275.88 440.00,277.74 441.00,279.56 442.00,281.32 443.00,282.99 444.00,284.54 445.00,285.93 446.00,287.16 447.00,288.24 448.00,289.21 449.00,290.07 450.00,290.85 451.00,291.56 452.00,292.16 453.00,292.68 454.00,293.10 455.00,293.45 456.00,293.73 457.00,293.93 458.00,294.05 459.00,294.08 460.00,294.06 461.00,294.00 462.00,293.90 463.00,293.77 464.00,293.61 465.00,293.43 466.00,293.25 467.00,293.06 468.00,292.87 469.00,292.69 470.00,292.51 471.00,292.33 472.00,292.14 473.00,291.95 474.00,291.75 475.00,291.56 476.00,291.37 477.00,291.18 478.00,291.00 479.00,290.83 480.00,290.67 481.00,290.53 482.00,290.37 483.00,290.21 484.00,290.07 485.00,289.97 486.00,289.96 487.00,290.02 488.00,290.17 489.00,290.38 490.00,290.63 491.00,290.93 492.00,291.27 493.00,291.63 494.00,292.01 495.00,292.41 496.00,292.83 497.00,293.26 498.00,293.68 499.00,294.12 500.00,294.58 501.00,295.06 502.00,295.59 503.00,296.17 504.00,296.81 505.00,297.53 506.00,298.31 507.00,299.17 508.00,300.08 509.00,301.04 510.00,302.05 511.00,303.10 512.00,304.18 513.00,305.29 514.00,306.42 515.00,307.60 516.00,308.88 517.00,310.20 518.00,311.55 519.00,312.91 520.00,314.24 521.00,315.52 522.00,316.72 523.00,317.82 524.00,318.88 525.00,319.90 526.00,320.89 527.00,321.83 528.00,322.71 529.00,323.53 530.00,324.26 531.00,324.91 532.00,325.46 533.00,325.93 534.00,326.30 535.00,326.60 536.00,326.83 537.00,326.99 538.00,327.10 539.00,327.16 540.00,327.19 541.00,327.18 542.00,327.06 543.00,326.88 544.00,326.66 545.00,326.41 546.00,326.15 547.00,325.90 548.00,325.67 549.00,325.50 550.00,325.40 551.00,325.43 552.00,325.56 553.00,325.80 554.00,326.16 555.00,326.65 556.00,327.22 557.00,327.84 558.00,328.50 559.00,329.23 560.00,330.03 561.00,330.89 562.00,331.79 563.00,332.73 564.00,333.70 565.00,334.72 566.00,335.83 567.00,337.00 568.00,338.21 569.00,339.41 570.00,340.58 571.00,341.68 572.00,342.71 573.00,343.71 574.00,344.69 575.00,345.64 576.00,346.54 577.00,347.38 578.00,348.16 579.00,348.87 580.00,349.51 581.00,350.09 582.00,350.61 583.00,351.07 584.00,351.49 585.00,351.86 586.00,352.19 587.00,352.44 588.00,352.61 589.00,352.73 590.00,352.83 591.00,352.95 592.00,353.10 593.00,353.33 594.00,353.60 595.00,353.89 596.00,354.22 597.00,354.56 598.00,354.94 599.00,355.35 600.00,355.80 601.00,356.28 602.00,356.80 603.00,357.36 604.00,357.99 605.00,358.71 606.00,359.50 607.00,360.41 608.00,361.43 609.00,362.51 610.00,363.60 611.00,364.68 612.00,365.69 613.00,366.60 614.00,367.41 615.00,368.15 616.00,368.84 617.00,369.49 618.00,370.11 619.00,370.71 620.00,371.30 621.00,371.86 622.00,372.39 623.00,372.88 624.00,373.36 625.00,373.82 626.00,374.30 627.00,374.80 628.00,375.31 629.00,375.81 630.00,376.31 630.30,376.46 630.92,376.41 631.55,376.23 632.17,375.95 632.79,375.57 633.42,375.10 634.04,374.56 634.66,373.97 635.29,373.35 635.91,372.72 636.54,372.09 637.16,371.50 637.78,370.96 638.41,370.50 639.03,370.11 639.65,369.83 640.28,369.66 640.90,369.60 641.52,369.79 642.15,370.35 642.77,371.24 643.40,372.40 644.02,373.75 644.65,375.20 645.27,376.65 645.90,378.00 646.52,379.16 647.15,380.05 647.77,380.61 648.40,380.80 649.01,380.49 649.63,379.58 650.25,378.08 650.86,376.03 651.48,373.48 652.09,370.49 652.71,367.15 653.32,363.53 653.94,359.71 654.55,355.80 655.16,351.89 655.78,348.07 656.39,344.45 657.01,341.11 657.62,338.12 658.24,335.57 658.86,333.52 659.47,332.02 660.09,331.11 660.70,330.80 661.35,331.28 662.00,332.67 662.65,334.84 663.30,337.57 663.95,340.60 664.60,343.63 665.25,346.36 665.90,348.53 666.55,349.92 667.20,350.40 667.83,349.91 668.46,348.44 669.09,346.07 669.73,342.87 670.36,338.98 670.99,334.53 671.62,329.71 672.25,324.70 672.88,319.69 673.51,314.87 674.14,310.42 674.77,306.53 675.41,303.33 676.04,300.96 676.67,299.49 677.30,299.00 677.92,299.24 678.54,299.94 679.16,301.07 679.79,302.58 680.41,304.38 681.03,306.39 681.65,308.50 682.27,310.61 682.89,312.62 683.51,314.42 684.14,315.93 684.76,317.06 685.38,317.76 686.00,318.00" fill="none" stroke="#c2a86a" stroke-width="2.6" stroke-linejoin="round" stroke-linecap="round" /></g><g clip-path="url(#clipD)"><polyline points="408.00,225.00 409.00,225.49 410.00,225.96 411.00,226.45 412.00,227.00 413.00,227.64 414.00,228.42 415.00,229.41 416.00,230.55 417.00,231.82 418.00,233.18 419.00,234.60 420.00,236.06 421.00,237.54 422.00,239.08 423.00,240.70 424.00,242.39 425.00,244.18 426.00,246.08 427.00,248.12 428.00,250.31 429.00,252.62 430.00,255.00 431.00,257.54 432.00,260.23 433.00,262.93 434.00,265.46 435.00,267.75 436.00,269.91 437.00,271.98 438.00,273.96 439.00,275.88 440.00,277.74 441.00,279.56 442.00,281.32 443.00,282.99 444.00,284.54 445.00,285.93 446.00,287.16 447.00,288.24 448.00,289.21 449.00,290.07 450.00,290.85 451.00,291.56 452.00,292.16 453.00,292.68 454.00,293.10 455.00,293.45 456.00,293.73 457.00,293.93 458.00,294.05 459.00,294.08 460.00,294.06 461.00,294.00 462.00,293.90 463.00,293.77 464.00,293.61 465.00,293.43 466.00,293.25 467.00,293.06 468.00,292.87 469.00,292.69 470.00,292.51 471.00,292.33 472.00,292.14 473.00,291.95 474.00,291.75 475.00,291.56 476.00,291.37 477.00,291.18 478.00,291.00 479.00,290.83 480.00,290.67 481.00,290.53 482.00,290.37 483.00,290.21 484.00,290.07 485.00,289.97 486.00,289.96 487.00,290.02 488.00,290.17 489.00,290.38 490.00,290.63 491.00,290.93 492.00,291.27 493.00,291.63 494.00,292.01 495.00,292.41 496.00,292.83 497.00,293.26 498.00,293.68 499.00,294.12 500.00,294.58 501.00,295.06 502.00,295.59 503.00,296.17 504.00,296.81 505.00,297.53 506.00,298.31 507.00,299.17 508.00,300.08 509.00,301.04 510.00,302.05 511.00,303.10 512.00,304.18 513.00,305.29 514.00,306.42 515.00,307.60 516.00,308.88 517.00,310.20 518.00,311.55 519.00,312.91 520.00,314.24 521.00,315.52 522.00,316.72 523.00,317.82 524.00,318.88 525.00,319.90 526.00,320.89 527.00,321.83 528.00,322.71 529.00,323.53 530.00,324.26 531.00,324.91 532.00,325.46 533.00,325.93 534.00,326.30 535.00,326.60 536.00,326.83 537.00,326.99 538.00,327.10 539.00,327.16 540.00,327.19 541.00,327.18 542.00,327.06 543.00,326.88 544.00,326.66 545.00,326.41 546.00,326.15 547.00,325.90 548.00,325.67 549.00,325.50 550.00,325.40 551.00,325.43 552.00,325.56 553.00,325.80 554.00,326.16 555.00,326.65 556.00,327.22 557.00,327.84 558.00,328.50 559.00,329.23 560.00,330.03 561.00,330.89 562.00,331.79 563.00,332.73 564.00,333.70 565.00,334.72 566.00,335.83 567.00,337.00 568.00,338.21 569.00,339.41 570.00,340.58 571.00,341.68 572.00,342.71 573.00,343.71 574.00,344.69 575.00,345.64 576.00,346.54 577.00,347.38 578.00,348.16 579.00,348.87 580.00,349.51 581.00,350.09 582.00,350.61 583.00,351.07 584.00,351.49 585.00,351.86 586.00,352.19 587.00,352.44 588.00,352.61 589.00,352.73 590.00,352.83 591.00,352.95 592.00,353.10 593.00,353.33 594.00,353.60 595.00,353.89 596.00,354.22 597.00,354.56 598.00,354.94 599.00,355.35 600.00,355.80 601.00,356.28 602.00,356.80 603.00,357.36 604.00,357.99 605.00,358.71 606.00,359.50 607.00,360.41 608.00,361.43 609.00,362.51 610.00,363.60 611.00,364.68 612.00,365.69 613.00,366.60 614.00,367.41 615.00,368.15 616.00,368.84 617.00,369.49 618.00,370.11 619.00,370.71 620.00,371.30 621.00,371.86 622.00,372.39 623.00,372.88 624.00,373.36 625.00,373.82 626.00,374.30 627.00,374.80 628.00,375.31 629.00,375.81 630.00,376.31 631.00,376.81 632.00,377.30 633.00,377.76 634.00,378.18 635.00,378.61 636.00,379.07 637.00,379.60 638.00,380.21 639.00,380.88 640.00,381.58 641.00,382.29 642.00,383.00 643.00,383.69 644.00,384.38 645.00,385.08 646.00,385.80 647.00,386.52 648.00,387.25 649.00,387.99 650.00,388.72 651.00,389.46 652.00,390.20 653.00,390.95 654.00,391.71 655.00,392.47 656.00,393.23 657.00,393.99 657.30,394.21 657.92,393.84 658.54,392.75 659.16,390.98 659.79,388.64 660.41,385.83 661.03,382.70 661.65,379.41 662.27,376.11 662.89,372.98 663.51,370.17 664.14,367.83 664.76,366.07 665.38,364.97 666.00,364.60 666.64,365.02 667.29,366.21 667.93,368.05 668.58,370.30 669.22,372.70 669.87,374.95 670.51,376.79 671.16,377.98 671.80,378.40 672.41,378.24 673.01,377.76 673.62,376.97 674.23,375.88 674.83,374.49 675.44,372.82 676.05,370.90 676.65,368.74 677.26,366.36 677.87,363.80 678.47,361.08 679.08,358.22 679.69,355.27 680.29,352.25 680.90,349.20 681.51,346.15 682.11,343.13 682.72,340.18 683.33,337.32 683.93,334.60 684.54,332.04 685.15,329.66 685.75,327.50 686.36,325.58 686.97,323.91 687.57,322.52 688.18,321.43 688.79,320.64 689.39,320.16 690.00,320.00" fill="none" stroke="#a88070" stroke-width="2.6" stroke-linejoin="round" stroke-linecap="round" /></g><g clip-path="url(#clipD)"><polyline points="410.00,225.96 410.50,226.20 411.00,226.45 411.50,226.72 412.00,227.00 412.50,227.31 413.00,227.64 413.50,228.01 414.00,228.42 414.50,228.89 415.00,229.41 415.50,229.96 416.00,230.55 416.50,231.17 417.00,231.82 417.50,232.49 418.00,233.18 418.50,233.88 419.00,234.60 419.50,235.33 420.00,236.06 420.50,236.80 421.00,237.54 421.50,238.30 422.00,239.08 422.50,239.88 423.00,240.70 423.50,241.53 424.00,242.39 424.50,243.27 425.00,244.18 425.50,245.11 426.00,246.08 426.50,247.08 427.00,248.12 427.50,249.20 428.00,250.31 428.50,251.45 429.00,252.62 429.50,253.80 430.00,255.00 430.50,256.24 431.00,257.54 431.50,258.87 432.00,260.23 432.50,261.59 433.00,262.93 433.50,264.22 434.00,265.46 434.50,266.63 435.00,267.75 435.50,268.84 436.00,269.91 436.50,270.95 437.00,271.98 437.50,272.98 438.00,273.96 438.50,274.93 439.00,275.88 439.50,276.81 440.00,277.74 440.50,278.65 441.00,279.56 441.50,280.45 442.00,281.32 442.50,282.17 443.00,282.99 443.50,283.78 444.00,284.54 444.50,285.26 445.00,285.93 445.50,286.56 446.00,287.16 446.50,287.72 447.00,288.24 447.50,288.74 448.00,289.21 448.50,289.65 449.00,290.07 449.50,290.47 450.00,290.85 450.50,291.22 451.00,291.56 451.50,291.87 452.00,292.16 452.50,292.43 453.00,292.68 453.50,292.90 454.00,293.10 454.50,293.29 455.00,293.45 455.50,293.60 456.00,293.73 456.50,293.84 457.00,293.93 457.50,294.00 458.00,294.05 458.50,294.07 459.00,294.08 459.50,294.08 460.00,294.06 460.50,294.03 461.00,294.00 461.50,293.96 462.00,293.90 462.50,293.84 463.00,293.77 463.50,293.69 464.00,293.61 464.50,293.52 465.00,293.43 465.50,293.34 466.00,293.25 466.50,293.15 467.00,293.06 467.50,292.96 468.00,292.87 468.50,292.78 469.00,292.69 469.50,292.60 470.00,292.51 470.50,292.42 471.00,292.33 471.50,292.23 472.00,292.14 472.50,292.04 473.00,291.95 473.50,291.85 474.00,291.75 474.50,291.66 475.00,291.56 475.50,291.47 476.00,291.37 476.50,291.28 477.00,291.18 477.50,291.09 478.00,291.00 478.50,290.92 479.00,290.83 479.50,290.75 480.00,290.67 480.50,290.60 481.00,290.53 481.50,290.45 482.00,290.37 482.50,290.29 483.00,290.21 483.50,290.14 484.00,290.07 484.50,290.01 485.00,289.97 485.50,289.95 486.00,289.96 486.50,289.98 487.00,290.02 487.50,290.09 488.00,290.17 488.50,290.26 489.00,290.38 489.50,290.50 490.00,290.63 490.50,290.78 491.00,290.93 491.50,291.10 492.00,291.27 492.50,291.44 493.00,291.63 493.50,291.82 494.00,292.01 494.50,292.21 495.00,292.41 495.50,292.62 496.00,292.83 496.50,293.04 497.00,293.26 497.50,293.47 498.00,293.68 498.50,293.90 499.00,294.12 499.50,294.35 500.00,294.58 500.50,294.82 501.00,295.06 501.50,295.32 502.00,295.59 502.50,295.87 503.00,296.17 503.50,296.48 504.00,296.81 504.50,297.16 505.00,297.53 505.50,297.91 506.00,298.31 506.50,298.73 507.00,299.17 507.50,299.62 508.00,300.08 508.50,300.56 509.00,301.04 509.50,301.54 510.00,302.05 510.50,302.57 511.00,303.10 511.50,303.64 512.00,304.18 512.50,304.73 513.00,305.29 513.50,305.85 514.00,306.42 514.50,307.00 515.00,307.60 515.50,308.23 516.00,308.88 516.50,309.53 517.00,310.20 517.50,310.88 518.00,311.55 518.50,312.23 519.00,312.91 519.50,313.58 520.00,314.24 520.50,314.89 521.00,315.52 521.50,316.13 522.00,316.72 522.50,317.28 523.00,317.82 523.50,318.35 524.00,318.88 524.50,319.40 525.00,319.90 525.50,320.41 526.00,320.89 526.50,321.37 527.00,321.83 527.50,322.28 528.00,322.71 528.50,323.13 529.00,323.53 529.50,323.90 530.00,324.26 530.50,324.60 531.00,324.91 531.50,325.20 532.00,325.46 532.50,325.71 533.00,325.93 533.50,326.13 534.00,326.30 534.50,326.46 535.00,326.60 535.50,326.72 536.00,326.83 536.50,326.92 537.00,326.99 537.50,327.05 538.00,327.10 538.50,327.14 539.00,327.16 539.50,327.18 540.00,327.19 540.50,327.19 541.00,327.18 541.50,327.13 542.00,327.06 542.50,326.98 543.00,326.88 543.50,326.77 544.00,326.66 544.50,326.53 545.00,326.41 545.50,326.28 546.00,326.15 546.50,326.02 547.00,325.90 547.50,325.78 548.00,325.67 548.50,325.58 549.00,325.50 549.50,325.44 550.00,325.40 550.50,325.40 551.00,325.43 551.50,325.48 552.00,325.56 552.50,325.67 553.00,325.80 553.50,325.97 554.00,326.16 554.50,326.39 555.00,326.65 555.50,326.93 556.00,327.22 556.50,327.53 557.00,327.84 557.50,328.16 558.00,328.50 558.50,328.86 559.00,329.23 559.50,329.63 560.00,330.03 560.50,330.46 561.00,330.89 561.50,331.34 562.00,331.79 562.50,332.26 563.00,332.73 563.50,333.21 564.00,333.70 564.50,334.20 565.00,334.72 565.50,335.27 566.00,335.83 566.50,336.41 567.00,337.00 567.50,337.60 568.00,338.21 568.50,338.81 569.00,339.41 569.50,340.00 570.00,340.58 570.50,341.14 571.00,341.68 571.50,342.20 572.00,342.71 572.50,343.21 573.00,343.71 573.50,344.21 574.00,344.69 574.50,345.17 575.00,345.64 575.50,346.09 576.00,346.54 576.50,346.97 577.00,347.38 577.50,347.78 578.00,348.16 578.50,348.53 579.00,348.87 579.50,349.20 580.00,349.51 580.50,349.81 581.00,350.09 581.50,350.35 582.00,350.61 582.50,350.85 583.00,351.07 583.50,351.29 584.00,351.49 584.50,351.68 585.00,351.86 585.50,352.03 586.00,352.19 586.50,352.33 587.00,352.44 587.50,352.53 588.00,352.61 588.50,352.67 589.00,352.73 589.50,352.78 590.00,352.83 590.50,352.89 591.00,352.95 591.50,353.02 592.00,353.10 592.50,353.20 593.00,353.33 593.50,353.46 594.00,353.60 594.50,353.74 595.00,353.89 595.50,354.05 596.00,354.22 596.50,354.39 597.00,354.56 597.50,354.75 598.00,354.94 598.50,355.14 599.00,355.35 599.50,355.57 600.00,355.80 600.50,356.04 601.00,356.28 601.50,356.53 602.00,356.80 602.50,357.07 603.00,357.36 603.50,357.67 604.00,357.99 604.50,358.34 605.00,358.71 605.50,359.09 606.00,359.50 606.50,359.94 607.00,360.41 607.50,360.91 608.00,361.43 608.50,361.96 609.00,362.51 609.50,363.06 610.00,363.60 610.50,364.15 611.00,364.68 611.50,365.19 612.00,365.69 612.50,366.16 613.00,366.60 613.50,367.01 614.00,367.41 614.50,367.78 615.00,368.15 615.50,368.50 616.00,368.84 616.50,369.17 617.00,369.49 617.50,369.80 618.00,370.11 618.50,370.41 619.00,370.71 619.50,371.01 620.00,371.30 620.50,371.59 621.00,371.86 621.50,372.13 622.00,372.39 622.50,372.64 623.00,372.88 623.50,373.12 624.00,373.36 624.50,373.59 625.00,373.82 625.50,374.06 626.00,374.30 626.50,374.55 627.00,374.80 627.50,375.05 628.00,375.31 628.50,375.56 629.00,375.81 629.50,376.06 630.00,376.31 630.50,376.56 631.00,376.81 631.50,377.06 632.00,377.30 632.50,377.53 633.00,377.76 633.50,377.97 634.00,378.18 634.50,378.40 635.00,378.61 635.50,378.84 636.00,379.07 636.50,379.33 637.00,379.60 637.50,379.90 638.00,380.21 638.50,380.54 639.00,380.88 639.50,381.22 640.00,381.58 640.50,381.94 641.00,382.29 641.50,382.65 642.00,383.00 642.50,383.34 643.00,383.69 643.50,384.03 644.00,384.38 644.50,384.73 645.00,385.08 645.50,385.44 646.00,385.80 646.50,386.16 647.00,386.52 647.50,386.89 648.00,387.25 648.50,387.62 649.00,387.99 649.50,388.35 650.00,388.72 650.50,389.09 651.00,389.46 651.50,389.83 652.00,390.20 652.50,390.57 653.00,390.95 653.50,391.33 654.00,391.71 654.50,392.09 655.00,392.47 655.50,392.85 656.00,393.23 656.50,393.61 657.00,393.99 657.50,394.36 658.00,394.73 658.50,395.10 659.00,395.45 659.50,395.80 660.00,396.16 660.50,396.54 661.00,396.94 661.50,397.34 662.00,397.69 662.50,397.93 663.00,398.04 663.50,398.00 664.00,397.81 664.50,397.49 665.00,397.05 665.50,396.53 666.00,395.94 666.50,395.30 667.00,394.65 667.50,394.00 668.00,393.25 668.50,392.34 669.00,391.34 669.50,390.33 670.00,389.41 670.50,388.65 671.00,388.14 671.50,387.99 672.00,388.20 672.50,388.70 673.00,389.42 673.50,390.28 674.00,391.18 674.50,392.04 675.00,392.80 675.50,393.62 676.00,394.51 676.50,395.43 677.00,396.31 677.50,397.10 678.00,397.73 678.50,398.12 679.00,398.18 679.50,397.90 680.00,397.46 680.50,397.06 681.00,396.80 681.50,396.61 682.00,396.43 682.50,396.24 683.00,396.06 683.50,395.89 684.00,395.71" fill="none" stroke="#4a1850" stroke-width="3.0" stroke-linejoin="round" stroke-linecap="round" /></g><g clip-path="url(#clipD)"><polyline points="405.00,241.65 690.00,412.57" fill="none" stroke="#000000" stroke-width="2.4" stroke-linejoin="round" stroke-linecap="round" stroke-dasharray="8.5,11.5" stroke-dashoffset="-3.9" stroke-linecap="butt"/></g><g clip-path="url(#clipD)"><polyline points="440.00,215.81 690.00,415.72" fill="none" stroke="#b4b4b4" stroke-width="2.4" stroke-linejoin="round" stroke-linecap="round" stroke-dasharray="8.5,11" stroke-linecap="butt"/></g><rect x="416" y="257.2" width="64.3" height="143.5" fill="#ffffff" fill-opacity="0.78" stroke="#c8c8c8" stroke-width="1"/><line x1="416.6" y1="266.00" x2="439.5" y2="266.00" stroke="#e2f88c" stroke-width="2.2"/><text transform="translate(441.30,270.00)" font-size="12" text-anchor="start" fill="#000" ><tspan font-style="italic">L</tspan>23</text><line x1="416.6" y1="280.75" x2="439.5" y2="280.75" stroke="#cce25c" stroke-width="2.2"/><text transform="translate(441.30,284.75)" font-size="12" text-anchor="start" fill="#000" ><tspan font-style="italic">L</tspan>25</text><line x1="416.6" y1="295.50" x2="439.5" y2="295.50" stroke="#c8cc68" stroke-width="2.2"/><text transform="translate(441.30,299.50)" font-size="12" text-anchor="start" fill="#000" ><tspan font-style="italic">L</tspan>27</text><line x1="416.6" y1="310.25" x2="439.5" y2="310.25" stroke="#c6be72" stroke-width="2.2"/><text transform="translate(441.30,314.25)" font-size="12" text-anchor="start" fill="#000" ><tspan font-style="italic">L</tspan>29</text><line x1="416.6" y1="325.00" x2="439.5" y2="325.00" stroke="#c2a86a" stroke-width="2.2"/><text transform="translate(441.30,329.00)" font-size="12" text-anchor="start" fill="#000" ><tspan font-style="italic">L</tspan>31</text><line x1="416.6" y1="339.75" x2="439.5" y2="339.75" stroke="#a88070" stroke-width="2.2"/><text transform="translate(441.30,343.75)" font-size="12" text-anchor="start" fill="#000" ><tspan font-style="italic">L</tspan>33</text><line x1="416.6" y1="354.50" x2="439.5" y2="354.50" stroke="#4a1850" stroke-width="2.2"/><text transform="translate(441.30,358.50)" font-size="12" text-anchor="start" fill="#000" ><tspan font-style="italic">L</tspan>35</text><line x1="416" y1="373.3" x2="425" y2="373.3" stroke="#000" stroke-width="2.4"/><line x1="436" y1="373.3" x2="439.4" y2="373.3" stroke="#000" stroke-width="2.4"/><text transform="translate(440.80,378.10) scale(1.12,1)" font-size="13" text-anchor="start" fill="#000" >&#x221D;</text><text transform="translate(450.60,378.90)" font-size="16" text-anchor="start" fill="#000" font-style="italic" >t</text><text transform="translate(456.50,371.30) scale(1.05,1)" font-size="10" text-anchor="start" fill="#000" font-weight="bold" >-0.75</text><line x1="416" y1="393.1" x2="425" y2="393.1" stroke="#b4b4b4" stroke-width="2.4"/><line x1="436" y1="393.1" x2="439.4" y2="393.1" stroke="#b4b4b4" stroke-width="2.4"/><text transform="translate(440.80,397.90) scale(1.12,1)" font-size="13" text-anchor="start" fill="#000" >&#x221D;</text><text transform="translate(450.60,398.70)" font-size="16" text-anchor="start" fill="#000" font-style="italic" >t</text><text transform="translate(456.50,391.10) scale(1.05,1)" font-size="10" text-anchor="start" fill="#000" font-weight="bold" >-1</text><rect x="410.0" y="228.3" width="273.20000000000005" height="177.7" fill="none" stroke="#000" stroke-width="1.6"/><line x1="487.03" y1="406.0" x2="487.03" y2="400.0" stroke="#000" stroke-width="1.4"/><line x1="487.03" y1="228.3" x2="487.03" y2="234.3" stroke="#000" stroke-width="1.4"/><line x1="541.96" y1="406.0" x2="541.96" y2="400.0" stroke="#000" stroke-width="1.4"/><line x1="541.96" y1="228.3" x2="541.96" y2="234.3" stroke="#000" stroke-width="1.4"/><line x1="584.57" y1="406.0" x2="584.57" y2="400.0" stroke="#000" stroke-width="1.4"/><line x1="584.57" y1="228.3" x2="584.57" y2="234.3" stroke="#000" stroke-width="1.4"/><line x1="619.39" y1="406.0" x2="619.39" y2="400.0" stroke="#000" stroke-width="1.4"/><line x1="619.39" y1="228.3" x2="619.39" y2="234.3" stroke="#000" stroke-width="1.4"/><line x1="648.83" y1="406.0" x2="648.83" y2="400.0" stroke="#000" stroke-width="1.4"/><line x1="648.83" y1="228.3" x2="648.83" y2="234.3" stroke="#000" stroke-width="1.4"/><line x1="674.33" y1="406.0" x2="674.33" y2="400.0" stroke="#000" stroke-width="1.4"/><line x1="674.33" y1="228.3" x2="674.33" y2="234.3" stroke="#000" stroke-width="1.4"/><line x1="418.92" y1="406.0" x2="418.92" y2="402.8" stroke="#000" stroke-width="1.4"/><line x1="418.92" y1="228.3" x2="418.92" y2="231.5" stroke="#000" stroke-width="1.4"/><line x1="427.80" y1="406.0" x2="427.80" y2="402.8" stroke="#000" stroke-width="1.4"/><line x1="427.80" y1="228.3" x2="427.80" y2="231.5" stroke="#000" stroke-width="1.4"/><line x1="436.29" y1="406.0" x2="436.29" y2="402.8" stroke="#000" stroke-width="1.4"/><line x1="436.29" y1="228.3" x2="436.29" y2="231.5" stroke="#000" stroke-width="1.4"/><line x1="444.42" y1="406.0" x2="444.42" y2="402.8" stroke="#000" stroke-width="1.4"/><line x1="444.42" y1="228.3" x2="444.42" y2="231.5" stroke="#000" stroke-width="1.4"/><line x1="452.21" y1="406.0" x2="452.21" y2="402.8" stroke="#000" stroke-width="1.4"/><line x1="452.21" y1="228.3" x2="452.21" y2="231.5" stroke="#000" stroke-width="1.4"/><line x1="459.70" y1="406.0" x2="459.70" y2="402.8" stroke="#000" stroke-width="1.4"/><line x1="459.70" y1="228.3" x2="459.70" y2="231.5" stroke="#000" stroke-width="1.4"/><line x1="466.91" y1="406.0" x2="466.91" y2="402.8" stroke="#000" stroke-width="1.4"/><line x1="466.91" y1="228.3" x2="466.91" y2="231.5" stroke="#000" stroke-width="1.4"/><line x1="473.85" y1="406.0" x2="473.85" y2="402.8" stroke="#000" stroke-width="1.4"/><line x1="473.85" y1="228.3" x2="473.85" y2="231.5" stroke="#000" stroke-width="1.4"/><line x1="480.55" y1="406.0" x2="480.55" y2="402.8" stroke="#000" stroke-width="1.4"/><line x1="480.55" y1="228.3" x2="480.55" y2="231.5" stroke="#000" stroke-width="1.4"/><line x1="493.29" y1="406.0" x2="493.29" y2="402.8" stroke="#000" stroke-width="1.4"/><line x1="493.29" y1="228.3" x2="493.29" y2="231.5" stroke="#000" stroke-width="1.4"/><line x1="499.35" y1="406.0" x2="499.35" y2="402.8" stroke="#000" stroke-width="1.4"/><line x1="499.35" y1="228.3" x2="499.35" y2="231.5" stroke="#000" stroke-width="1.4"/><line x1="505.23" y1="406.0" x2="505.23" y2="402.8" stroke="#000" stroke-width="1.4"/><line x1="505.23" y1="228.3" x2="505.23" y2="231.5" stroke="#000" stroke-width="1.4"/><line x1="510.93" y1="406.0" x2="510.93" y2="402.8" stroke="#000" stroke-width="1.4"/><line x1="510.93" y1="228.3" x2="510.93" y2="231.5" stroke="#000" stroke-width="1.4"/><line x1="516.46" y1="406.0" x2="516.46" y2="402.8" stroke="#000" stroke-width="1.4"/><line x1="516.46" y1="228.3" x2="516.46" y2="231.5" stroke="#000" stroke-width="1.4"/><line x1="521.84" y1="406.0" x2="521.84" y2="402.8" stroke="#000" stroke-width="1.4"/><line x1="521.84" y1="228.3" x2="521.84" y2="231.5" stroke="#000" stroke-width="1.4"/><line x1="527.08" y1="406.0" x2="527.08" y2="402.8" stroke="#000" stroke-width="1.4"/><line x1="527.08" y1="228.3" x2="527.08" y2="231.5" stroke="#000" stroke-width="1.4"/><line x1="532.17" y1="406.0" x2="532.17" y2="402.8" stroke="#000" stroke-width="1.4"/><line x1="532.17" y1="228.3" x2="532.17" y2="231.5" stroke="#000" stroke-width="1.4"/><line x1="537.13" y1="406.0" x2="537.13" y2="402.8" stroke="#000" stroke-width="1.4"/><line x1="537.13" y1="228.3" x2="537.13" y2="231.5" stroke="#000" stroke-width="1.4"/><line x1="546.68" y1="406.0" x2="546.68" y2="402.8" stroke="#000" stroke-width="1.4"/><line x1="546.68" y1="228.3" x2="546.68" y2="231.5" stroke="#000" stroke-width="1.4"/><line x1="551.28" y1="406.0" x2="551.28" y2="402.8" stroke="#000" stroke-width="1.4"/><line x1="551.28" y1="228.3" x2="551.28" y2="231.5" stroke="#000" stroke-width="1.4"/><line x1="555.77" y1="406.0" x2="555.77" y2="402.8" stroke="#000" stroke-width="1.4"/><line x1="555.77" y1="228.3" x2="555.77" y2="231.5" stroke="#000" stroke-width="1.4"/><line x1="560.16" y1="406.0" x2="560.16" y2="402.8" stroke="#000" stroke-width="1.4"/><line x1="560.16" y1="228.3" x2="560.16" y2="231.5" stroke="#000" stroke-width="1.4"/><line x1="564.45" y1="406.0" x2="564.45" y2="402.8" stroke="#000" stroke-width="1.4"/><line x1="564.45" y1="228.3" x2="564.45" y2="231.5" stroke="#000" stroke-width="1.4"/><line x1="568.65" y1="406.0" x2="568.65" y2="402.8" stroke="#000" stroke-width="1.4"/><line x1="568.65" y1="228.3" x2="568.65" y2="231.5" stroke="#000" stroke-width="1.4"/><line x1="572.76" y1="406.0" x2="572.76" y2="402.8" stroke="#000" stroke-width="1.4"/><line x1="572.76" y1="228.3" x2="572.76" y2="231.5" stroke="#000" stroke-width="1.4"/><line x1="576.78" y1="406.0" x2="576.78" y2="402.8" stroke="#000" stroke-width="1.4"/><line x1="576.78" y1="228.3" x2="576.78" y2="231.5" stroke="#000" stroke-width="1.4"/><line x1="580.72" y1="406.0" x2="580.72" y2="402.8" stroke="#000" stroke-width="1.4"/><line x1="580.72" y1="228.3" x2="580.72" y2="231.5" stroke="#000" stroke-width="1.4"/><line x1="588.36" y1="406.0" x2="588.36" y2="402.8" stroke="#000" stroke-width="1.4"/><line x1="588.36" y1="228.3" x2="588.36" y2="231.5" stroke="#000" stroke-width="1.4"/><line x1="592.06" y1="406.0" x2="592.06" y2="402.8" stroke="#000" stroke-width="1.4"/><line x1="592.06" y1="228.3" x2="592.06" y2="231.5" stroke="#000" stroke-width="1.4"/><line x1="595.70" y1="406.0" x2="595.70" y2="402.8" stroke="#000" stroke-width="1.4"/><line x1="595.70" y1="228.3" x2="595.70" y2="231.5" stroke="#000" stroke-width="1.4"/><line x1="599.27" y1="406.0" x2="599.27" y2="402.8" stroke="#000" stroke-width="1.4"/><line x1="599.27" y1="228.3" x2="599.27" y2="231.5" stroke="#000" stroke-width="1.4"/><line x1="602.77" y1="406.0" x2="602.77" y2="402.8" stroke="#000" stroke-width="1.4"/><line x1="602.77" y1="228.3" x2="602.77" y2="231.5" stroke="#000" stroke-width="1.4"/><line x1="606.22" y1="406.0" x2="606.22" y2="402.8" stroke="#000" stroke-width="1.4"/><line x1="606.22" y1="228.3" x2="606.22" y2="231.5" stroke="#000" stroke-width="1.4"/><line x1="609.60" y1="406.0" x2="609.60" y2="402.8" stroke="#000" stroke-width="1.4"/><line x1="609.60" y1="228.3" x2="609.60" y2="231.5" stroke="#000" stroke-width="1.4"/><line x1="612.92" y1="406.0" x2="612.92" y2="402.8" stroke="#000" stroke-width="1.4"/><line x1="612.92" y1="228.3" x2="612.92" y2="231.5" stroke="#000" stroke-width="1.4"/><line x1="616.18" y1="406.0" x2="616.18" y2="402.8" stroke="#000" stroke-width="1.4"/><line x1="616.18" y1="228.3" x2="616.18" y2="231.5" stroke="#000" stroke-width="1.4"/><line x1="622.55" y1="406.0" x2="622.55" y2="402.8" stroke="#000" stroke-width="1.4"/><line x1="622.55" y1="228.3" x2="622.55" y2="231.5" stroke="#000" stroke-width="1.4"/><line x1="625.65" y1="406.0" x2="625.65" y2="402.8" stroke="#000" stroke-width="1.4"/><line x1="625.65" y1="228.3" x2="625.65" y2="231.5" stroke="#000" stroke-width="1.4"/><line x1="628.71" y1="406.0" x2="628.71" y2="402.8" stroke="#000" stroke-width="1.4"/><line x1="628.71" y1="228.3" x2="628.71" y2="231.5" stroke="#000" stroke-width="1.4"/><line x1="631.71" y1="406.0" x2="631.71" y2="402.8" stroke="#000" stroke-width="1.4"/><line x1="631.71" y1="228.3" x2="631.71" y2="231.5" stroke="#000" stroke-width="1.4"/><line x1="634.68" y1="406.0" x2="634.68" y2="402.8" stroke="#000" stroke-width="1.4"/><line x1="634.68" y1="228.3" x2="634.68" y2="231.5" stroke="#000" stroke-width="1.4"/><line x1="637.59" y1="406.0" x2="637.59" y2="402.8" stroke="#000" stroke-width="1.4"/><line x1="637.59" y1="228.3" x2="637.59" y2="231.5" stroke="#000" stroke-width="1.4"/><line x1="640.46" y1="406.0" x2="640.46" y2="402.8" stroke="#000" stroke-width="1.4"/><line x1="640.46" y1="228.3" x2="640.46" y2="231.5" stroke="#000" stroke-width="1.4"/><line x1="643.29" y1="406.0" x2="643.29" y2="402.8" stroke="#000" stroke-width="1.4"/><line x1="643.29" y1="228.3" x2="643.29" y2="231.5" stroke="#000" stroke-width="1.4"/><line x1="646.08" y1="406.0" x2="646.08" y2="402.8" stroke="#000" stroke-width="1.4"/><line x1="646.08" y1="228.3" x2="646.08" y2="231.5" stroke="#000" stroke-width="1.4"/><line x1="651.54" y1="406.0" x2="651.54" y2="402.8" stroke="#000" stroke-width="1.4"/><line x1="651.54" y1="228.3" x2="651.54" y2="231.5" stroke="#000" stroke-width="1.4"/><line x1="654.21" y1="406.0" x2="654.21" y2="402.8" stroke="#000" stroke-width="1.4"/><line x1="654.21" y1="228.3" x2="654.21" y2="231.5" stroke="#000" stroke-width="1.4"/><line x1="656.84" y1="406.0" x2="656.84" y2="402.8" stroke="#000" stroke-width="1.4"/><line x1="656.84" y1="228.3" x2="656.84" y2="231.5" stroke="#000" stroke-width="1.4"/><line x1="659.44" y1="406.0" x2="659.44" y2="402.8" stroke="#000" stroke-width="1.4"/><line x1="659.44" y1="228.3" x2="659.44" y2="231.5" stroke="#000" stroke-width="1.4"/><line x1="662.00" y1="406.0" x2="662.00" y2="402.8" stroke="#000" stroke-width="1.4"/><line x1="662.00" y1="228.3" x2="662.00" y2="231.5" stroke="#000" stroke-width="1.4"/><line x1="664.53" y1="406.0" x2="664.53" y2="402.8" stroke="#000" stroke-width="1.4"/><line x1="664.53" y1="228.3" x2="664.53" y2="231.5" stroke="#000" stroke-width="1.4"/><line x1="667.03" y1="406.0" x2="667.03" y2="402.8" stroke="#000" stroke-width="1.4"/><line x1="667.03" y1="228.3" x2="667.03" y2="231.5" stroke="#000" stroke-width="1.4"/><line x1="669.49" y1="406.0" x2="669.49" y2="402.8" stroke="#000" stroke-width="1.4"/><line x1="669.49" y1="228.3" x2="669.49" y2="231.5" stroke="#000" stroke-width="1.4"/><line x1="671.92" y1="406.0" x2="671.92" y2="402.8" stroke="#000" stroke-width="1.4"/><line x1="671.92" y1="228.3" x2="671.92" y2="231.5" stroke="#000" stroke-width="1.4"/><line x1="676.70" y1="406.0" x2="676.70" y2="402.8" stroke="#000" stroke-width="1.4"/><line x1="676.70" y1="228.3" x2="676.70" y2="231.5" stroke="#000" stroke-width="1.4"/><line x1="679.04" y1="406.0" x2="679.04" y2="402.8" stroke="#000" stroke-width="1.4"/><line x1="679.04" y1="228.3" x2="679.04" y2="231.5" stroke="#000" stroke-width="1.4"/><line x1="681.36" y1="406.0" x2="681.36" y2="402.8" stroke="#000" stroke-width="1.4"/><line x1="681.36" y1="228.3" x2="681.36" y2="231.5" stroke="#000" stroke-width="1.4"/><line x1="410.0" y1="228.80" x2="416.0" y2="228.80" stroke="#000" stroke-width="1.4"/><line x1="683.2" y1="228.80" x2="677.2" y2="228.80" stroke="#000" stroke-width="1.4"/><line x1="410.0" y1="252.34" x2="416.0" y2="252.34" stroke="#000" stroke-width="1.4"/><line x1="683.2" y1="252.34" x2="677.2" y2="252.34" stroke="#000" stroke-width="1.4"/><line x1="410.0" y1="280.18" x2="416.0" y2="280.18" stroke="#000" stroke-width="1.4"/><line x1="683.2" y1="280.18" x2="677.2" y2="280.18" stroke="#000" stroke-width="1.4"/><line x1="410.0" y1="314.25" x2="416.0" y2="314.25" stroke="#000" stroke-width="1.4"/><line x1="683.2" y1="314.25" x2="677.2" y2="314.25" stroke="#000" stroke-width="1.4"/><line x1="410.0" y1="358.18" x2="416.0" y2="358.18" stroke="#000" stroke-width="1.4"/><line x1="683.2" y1="358.18" x2="677.2" y2="358.18" stroke="#000" stroke-width="1.4"/><line x1="410.0" y1="405.54" x2="413.2" y2="405.54" stroke="#000" stroke-width="1.4"/><line x1="683.2" y1="405.54" x2="680.0" y2="405.54" stroke="#000" stroke-width="1.4"/><line x1="410.0" y1="398.75" x2="413.2" y2="398.75" stroke="#000" stroke-width="1.4"/><line x1="683.2" y1="398.75" x2="680.0" y2="398.75" stroke="#000" stroke-width="1.4"/><line x1="410.0" y1="392.25" x2="413.2" y2="392.25" stroke="#000" stroke-width="1.4"/><line x1="683.2" y1="392.25" x2="680.0" y2="392.25" stroke="#000" stroke-width="1.4"/><line x1="410.0" y1="386.02" x2="413.2" y2="386.02" stroke="#000" stroke-width="1.4"/><line x1="683.2" y1="386.02" x2="680.0" y2="386.02" stroke="#000" stroke-width="1.4"/><line x1="410.0" y1="380.03" x2="413.2" y2="380.03" stroke="#000" stroke-width="1.4"/><line x1="683.2" y1="380.03" x2="680.0" y2="380.03" stroke="#000" stroke-width="1.4"/><line x1="410.0" y1="374.27" x2="413.2" y2="374.27" stroke="#000" stroke-width="1.4"/><line x1="683.2" y1="374.27" x2="680.0" y2="374.27" stroke="#000" stroke-width="1.4"/><line x1="410.0" y1="368.72" x2="413.2" y2="368.72" stroke="#000" stroke-width="1.4"/><line x1="683.2" y1="368.72" x2="680.0" y2="368.72" stroke="#000" stroke-width="1.4"/><line x1="410.0" y1="363.36" x2="413.2" y2="363.36" stroke="#000" stroke-width="1.4"/><line x1="683.2" y1="363.36" x2="680.0" y2="363.36" stroke="#000" stroke-width="1.4"/><line x1="410.0" y1="353.17" x2="413.2" y2="353.17" stroke="#000" stroke-width="1.4"/><line x1="683.2" y1="353.17" x2="680.0" y2="353.17" stroke="#000" stroke-width="1.4"/><line x1="410.0" y1="348.33" x2="413.2" y2="348.33" stroke="#000" stroke-width="1.4"/><line x1="683.2" y1="348.33" x2="680.0" y2="348.33" stroke="#000" stroke-width="1.4"/><line x1="410.0" y1="343.63" x2="413.2" y2="343.63" stroke="#000" stroke-width="1.4"/><line x1="683.2" y1="343.63" x2="680.0" y2="343.63" stroke="#000" stroke-width="1.4"/><line x1="410.0" y1="339.07" x2="413.2" y2="339.07" stroke="#000" stroke-width="1.4"/><line x1="683.2" y1="339.07" x2="680.0" y2="339.07" stroke="#000" stroke-width="1.4"/><line x1="410.0" y1="334.64" x2="413.2" y2="334.64" stroke="#000" stroke-width="1.4"/><line x1="683.2" y1="334.64" x2="680.0" y2="334.64" stroke="#000" stroke-width="1.4"/><line x1="410.0" y1="330.34" x2="413.2" y2="330.34" stroke="#000" stroke-width="1.4"/><line x1="683.2" y1="330.34" x2="680.0" y2="330.34" stroke="#000" stroke-width="1.4"/><line x1="410.0" y1="326.16" x2="413.2" y2="326.16" stroke="#000" stroke-width="1.4"/><line x1="683.2" y1="326.16" x2="680.0" y2="326.16" stroke="#000" stroke-width="1.4"/><line x1="410.0" y1="322.08" x2="413.2" y2="322.08" stroke="#000" stroke-width="1.4"/><line x1="683.2" y1="322.08" x2="680.0" y2="322.08" stroke="#000" stroke-width="1.4"/><line x1="410.0" y1="318.12" x2="413.2" y2="318.12" stroke="#000" stroke-width="1.4"/><line x1="683.2" y1="318.12" x2="680.0" y2="318.12" stroke="#000" stroke-width="1.4"/><line x1="410.0" y1="310.48" x2="413.2" y2="310.48" stroke="#000" stroke-width="1.4"/><line x1="683.2" y1="310.48" x2="680.0" y2="310.48" stroke="#000" stroke-width="1.4"/><line x1="410.0" y1="306.80" x2="413.2" y2="306.80" stroke="#000" stroke-width="1.4"/><line x1="683.2" y1="306.80" x2="680.0" y2="306.80" stroke="#000" stroke-width="1.4"/><line x1="410.0" y1="303.21" x2="413.2" y2="303.21" stroke="#000" stroke-width="1.4"/><line x1="683.2" y1="303.21" x2="680.0" y2="303.21" stroke="#000" stroke-width="1.4"/><line x1="410.0" y1="299.70" x2="413.2" y2="299.70" stroke="#000" stroke-width="1.4"/><line x1="683.2" y1="299.70" x2="680.0" y2="299.70" stroke="#000" stroke-width="1.4"/><line x1="410.0" y1="296.27" x2="413.2" y2="296.27" stroke="#000" stroke-width="1.4"/><line x1="683.2" y1="296.27" x2="680.0" y2="296.27" stroke="#000" stroke-width="1.4"/><line x1="410.0" y1="292.91" x2="413.2" y2="292.91" stroke="#000" stroke-width="1.4"/><line x1="683.2" y1="292.91" x2="680.0" y2="292.91" stroke="#000" stroke-width="1.4"/><line x1="410.0" y1="289.63" x2="413.2" y2="289.63" stroke="#000" stroke-width="1.4"/><line x1="683.2" y1="289.63" x2="680.0" y2="289.63" stroke="#000" stroke-width="1.4"/><line x1="410.0" y1="286.41" x2="413.2" y2="286.41" stroke="#000" stroke-width="1.4"/><line x1="683.2" y1="286.41" x2="680.0" y2="286.41" stroke="#000" stroke-width="1.4"/><line x1="410.0" y1="283.26" x2="413.2" y2="283.26" stroke="#000" stroke-width="1.4"/><line x1="683.2" y1="283.26" x2="680.0" y2="283.26" stroke="#000" stroke-width="1.4"/><line x1="410.0" y1="277.15" x2="413.2" y2="277.15" stroke="#000" stroke-width="1.4"/><line x1="683.2" y1="277.15" x2="680.0" y2="277.15" stroke="#000" stroke-width="1.4"/><line x1="410.0" y1="274.19" x2="413.2" y2="274.19" stroke="#000" stroke-width="1.4"/><line x1="683.2" y1="274.19" x2="680.0" y2="274.19" stroke="#000" stroke-width="1.4"/><line x1="410.0" y1="271.28" x2="413.2" y2="271.28" stroke="#000" stroke-width="1.4"/><line x1="683.2" y1="271.28" x2="680.0" y2="271.28" stroke="#000" stroke-width="1.4"/><line x1="410.0" y1="268.43" x2="413.2" y2="268.43" stroke="#000" stroke-width="1.4"/><line x1="683.2" y1="268.43" x2="680.0" y2="268.43" stroke="#000" stroke-width="1.4"/><line x1="410.0" y1="265.62" x2="413.2" y2="265.62" stroke="#000" stroke-width="1.4"/><line x1="683.2" y1="265.62" x2="680.0" y2="265.62" stroke="#000" stroke-width="1.4"/><line x1="410.0" y1="262.87" x2="413.2" y2="262.87" stroke="#000" stroke-width="1.4"/><line x1="683.2" y1="262.87" x2="680.0" y2="262.87" stroke="#000" stroke-width="1.4"/><line x1="410.0" y1="260.17" x2="413.2" y2="260.17" stroke="#000" stroke-width="1.4"/><line x1="683.2" y1="260.17" x2="680.0" y2="260.17" stroke="#000" stroke-width="1.4"/><line x1="410.0" y1="257.52" x2="413.2" y2="257.52" stroke="#000" stroke-width="1.4"/><line x1="683.2" y1="257.52" x2="680.0" y2="257.52" stroke="#000" stroke-width="1.4"/><line x1="410.0" y1="254.90" x2="413.2" y2="254.90" stroke="#000" stroke-width="1.4"/><line x1="683.2" y1="254.90" x2="680.0" y2="254.90" stroke="#000" stroke-width="1.4"/><line x1="410.0" y1="249.81" x2="413.2" y2="249.81" stroke="#000" stroke-width="1.4"/><line x1="683.2" y1="249.81" x2="680.0" y2="249.81" stroke="#000" stroke-width="1.4"/><line x1="410.0" y1="247.33" x2="413.2" y2="247.33" stroke="#000" stroke-width="1.4"/><line x1="683.2" y1="247.33" x2="680.0" y2="247.33" stroke="#000" stroke-width="1.4"/><line x1="410.0" y1="244.89" x2="413.2" y2="244.89" stroke="#000" stroke-width="1.4"/><line x1="683.2" y1="244.89" x2="680.0" y2="244.89" stroke="#000" stroke-width="1.4"/><line x1="410.0" y1="242.48" x2="413.2" y2="242.48" stroke="#000" stroke-width="1.4"/><line x1="683.2" y1="242.48" x2="680.0" y2="242.48" stroke="#000" stroke-width="1.4"/><line x1="410.0" y1="240.12" x2="413.2" y2="240.12" stroke="#000" stroke-width="1.4"/><line x1="683.2" y1="240.12" x2="680.0" y2="240.12" stroke="#000" stroke-width="1.4"/><line x1="410.0" y1="237.78" x2="413.2" y2="237.78" stroke="#000" stroke-width="1.4"/><line x1="683.2" y1="237.78" x2="680.0" y2="237.78" stroke="#000" stroke-width="1.4"/><line x1="410.0" y1="235.49" x2="413.2" y2="235.49" stroke="#000" stroke-width="1.4"/><line x1="683.2" y1="235.49" x2="680.0" y2="235.49" stroke="#000" stroke-width="1.4"/><line x1="410.0" y1="233.23" x2="413.2" y2="233.23" stroke="#000" stroke-width="1.4"/><line x1="683.2" y1="233.23" x2="680.0" y2="233.23" stroke="#000" stroke-width="1.4"/><line x1="410.0" y1="231.00" x2="413.2" y2="231.00" stroke="#000" stroke-width="1.4"/><line x1="683.2" y1="231.00" x2="680.0" y2="231.00" stroke="#000" stroke-width="1.4"/><text transform="translate(400.50,234.30) scale(1.07,1)" font-size="16" text-anchor="end" fill="#000" >0.07</text><text transform="translate(400.50,257.84) scale(1.07,1)" font-size="16" text-anchor="end" fill="#000" >0.06</text><text transform="translate(400.50,285.68) scale(1.07,1)" font-size="16" text-anchor="end" fill="#000" >0.05</text><text transform="translate(400.50,319.75) scale(1.07,1)" font-size="16" text-anchor="end" fill="#000" >0.04</text><text transform="translate(400.50,363.68) scale(1.07,1)" font-size="16" text-anchor="end" fill="#000" >0.03</text><text transform="translate(409.60,426.80) scale(1.07,1)" font-size="16" text-anchor="middle" fill="#000" >10</text><text transform="translate(487.03,426.80) scale(1.07,1)" font-size="16" text-anchor="middle" fill="#000" >15</text><text transform="translate(541.96,426.80) scale(1.07,1)" font-size="16" text-anchor="middle" fill="#000" >20</text><text transform="translate(584.57,426.80) scale(1.07,1)" font-size="16" text-anchor="middle" fill="#000" >25</text><text transform="translate(619.39,426.80) scale(1.07,1)" font-size="16" text-anchor="middle" fill="#000" >30</text><text transform="translate(648.83,426.80) scale(1.07,1)" font-size="16" text-anchor="middle" fill="#000" >35</text><text transform="translate(674.33,426.80) scale(1.07,1)" font-size="16" text-anchor="middle" fill="#000" >40</text><text transform="translate(546.00,451.00) scale(1.1,1)" font-size="20" text-anchor="middle" fill="#000" font-style="italic" >t</text><g transform="translate(359.3,344.6) rotate(-90)"><text x="0" y="0" font-size="21.5" font-style="italic">C</text><text x="15.2" y="-8.9" font-size="11" font-style="italic">E</text><text x="14.6" y="2.6" font-size="13" font-style="italic">L/2</text><text x="34.2" y="0.2" font-size="21" font-style="italic">(t)</text></g><text transform="translate(505.90,259.10) scale(1.05,1)" font-size="20" text-anchor="start" fill="#000" font-style="italic" >h</text><text transform="translate(516.40,264.60) scale(1.1,1)" font-size="13.5" text-anchor="start" fill="#000" font-style="italic" >XZ</text><text transform="translate(535.50,259.10) scale(1.055,1)" font-size="18" text-anchor="start" fill="#000" >=0.024</text><text transform="translate(501.40,395.30) scale(1.06,1)" font-size="20" text-anchor="middle" fill="#000" >(d)</text></svg></body></html>
